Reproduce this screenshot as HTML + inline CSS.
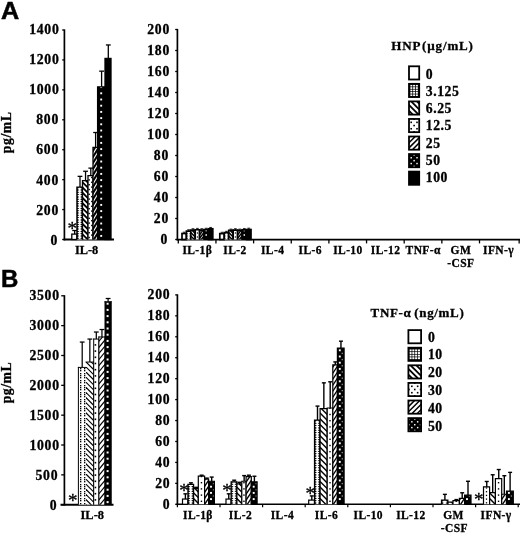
<!DOCTYPE html>
<html><head><meta charset="utf-8"><title>Figure</title>
<style>html,body{margin:0;padding:0;background:#fff}svg{display:block;will-change:transform}text{fill:#000}</style>
</head><body>
<svg width="520" height="536" viewBox="0 0 520 536">
<rect width="520" height="536" fill="#fff"/>
<text x="0.90" y="19.40" font-family='"Liberation Sans", sans-serif' font-size="24.0" font-weight="bold" text-anchor="start" stroke="#000" stroke-width="0.5" textLength="18.2" lengthAdjust="spacingAndGlyphs">A</text>
<line x1="64.40" y1="29.40" x2="64.40" y2="240.35" stroke="#000" stroke-width="1.7" />
<line x1="62.20" y1="239.50" x2="64.40" y2="239.50" stroke="#000" stroke-width="1.3" />
<text x="58.05" y="245.00" font-family='"Liberation Serif", serif' font-size="13.7" font-weight="bold" text-anchor="end" stroke="#000" stroke-width="0.3" letter-spacing="0.75">0</text>
<line x1="62.20" y1="209.57" x2="64.40" y2="209.57" stroke="#000" stroke-width="1.3" />
<text x="59.05" y="215.00" font-family='"Liberation Serif", serif' font-size="13.7" font-weight="bold" text-anchor="end" stroke="#000" stroke-width="0.3" letter-spacing="0.75">200</text>
<line x1="62.20" y1="179.64" x2="64.40" y2="179.64" stroke="#000" stroke-width="1.3" />
<text x="59.05" y="185.00" font-family='"Liberation Serif", serif' font-size="13.7" font-weight="bold" text-anchor="end" stroke="#000" stroke-width="0.3" letter-spacing="0.75">400</text>
<line x1="62.20" y1="149.71" x2="64.40" y2="149.71" stroke="#000" stroke-width="1.3" />
<text x="59.05" y="154.00" font-family='"Liberation Serif", serif' font-size="13.7" font-weight="bold" text-anchor="end" stroke="#000" stroke-width="0.3" letter-spacing="0.75">600</text>
<line x1="62.20" y1="119.79" x2="64.40" y2="119.79" stroke="#000" stroke-width="1.3" />
<text x="59.05" y="124.00" font-family='"Liberation Serif", serif' font-size="13.7" font-weight="bold" text-anchor="end" stroke="#000" stroke-width="0.3" letter-spacing="0.75">800</text>
<line x1="62.20" y1="89.86" x2="64.40" y2="89.86" stroke="#000" stroke-width="1.3" />
<text x="59.55" y="94.00" font-family='"Liberation Serif", serif' font-size="13.7" font-weight="bold" text-anchor="end" stroke="#000" stroke-width="0.3" letter-spacing="0.75">1000</text>
<line x1="62.20" y1="59.93" x2="64.40" y2="59.93" stroke="#000" stroke-width="1.3" />
<text x="59.55" y="64.00" font-family='"Liberation Serif", serif' font-size="13.7" font-weight="bold" text-anchor="end" stroke="#000" stroke-width="0.3" letter-spacing="0.75">1200</text>
<line x1="62.20" y1="30.00" x2="64.40" y2="30.00" stroke="#000" stroke-width="1.3" />
<text x="59.55" y="34.00" font-family='"Liberation Serif", serif' font-size="13.7" font-weight="bold" text-anchor="end" stroke="#000" stroke-width="0.3" letter-spacing="0.75">1400</text>
<line x1="63.55" y1="239.50" x2="114.00" y2="239.50" stroke="#000" stroke-width="2.0" />
<line x1="74.65" y1="234.11" x2="74.65" y2="230.52" stroke="#000" stroke-width="1.3" />
<line x1="72.25" y1="230.52" x2="77.05" y2="230.52" stroke="#000" stroke-width="1.3" />
<rect x="71.80" y="234.11" width="5.10" height="5.39" fill="#fff" stroke="#000" stroke-width="1.3"/>
<line x1="80.00" y1="187.12" x2="80.00" y2="176.35" stroke="#000" stroke-width="1.3" />
<line x1="77.60" y1="176.35" x2="82.40" y2="176.35" stroke="#000" stroke-width="1.3" />
<clipPath id="c0"><rect x="76.90" y="187.12" width="5.60" height="52.38"/></clipPath>
<rect x="76.90" y="187.12" width="5.60" height="52.38" fill="#fff"/>
<g clip-path="url(#c0)">
<path d="M76.90,237.04 L79.30,238.30 L76.90,239.56Z M82.50,237.04 L80.10,238.30 L82.50,239.56Z" fill="#000"/>
<path d="M76.90,234.74 L79.30,236.00 L76.90,237.26Z M82.50,234.74 L80.10,236.00 L82.50,237.26Z" fill="#000"/>
<path d="M76.90,232.44 L79.30,233.70 L76.90,234.96Z M82.50,232.44 L80.10,233.70 L82.50,234.96Z" fill="#000"/>
<path d="M76.90,230.13 L79.30,231.40 L76.90,232.66Z M82.50,230.13 L80.10,231.40 L82.50,232.66Z" fill="#000"/>
<path d="M76.90,227.83 L79.30,229.10 L76.90,230.36Z M82.50,227.83 L80.10,229.10 L82.50,230.36Z" fill="#000"/>
<path d="M76.90,225.53 L79.30,226.80 L76.90,228.06Z M82.50,225.53 L80.10,226.80 L82.50,228.06Z" fill="#000"/>
<path d="M76.90,223.23 L79.30,224.50 L76.90,225.76Z M82.50,223.23 L80.10,224.50 L82.50,225.76Z" fill="#000"/>
<path d="M76.90,220.93 L79.30,222.20 L76.90,223.46Z M82.50,220.93 L80.10,222.20 L82.50,223.46Z" fill="#000"/>
<path d="M76.90,218.63 L79.30,219.90 L76.90,221.16Z M82.50,218.63 L80.10,219.90 L82.50,221.16Z" fill="#000"/>
<path d="M76.90,216.33 L79.30,217.60 L76.90,218.86Z M82.50,216.33 L80.10,217.60 L82.50,218.86Z" fill="#000"/>
<path d="M76.90,214.03 L79.30,215.30 L76.90,216.56Z M82.50,214.03 L80.10,215.30 L82.50,216.56Z" fill="#000"/>
<path d="M76.90,211.73 L79.30,213.00 L76.90,214.26Z M82.50,211.73 L80.10,213.00 L82.50,214.26Z" fill="#000"/>
<path d="M76.90,209.43 L79.30,210.70 L76.90,211.96Z M82.50,209.43 L80.10,210.70 L82.50,211.96Z" fill="#000"/>
<path d="M76.90,207.13 L79.30,208.40 L76.90,209.66Z M82.50,207.13 L80.10,208.40 L82.50,209.66Z" fill="#000"/>
<path d="M76.90,204.83 L79.30,206.10 L76.90,207.36Z M82.50,204.83 L80.10,206.10 L82.50,207.36Z" fill="#000"/>
<path d="M76.90,202.53 L79.30,203.80 L76.90,205.06Z M82.50,202.53 L80.10,203.80 L82.50,205.06Z" fill="#000"/>
<path d="M76.90,200.23 L79.30,201.50 L76.90,202.76Z M82.50,200.23 L80.10,201.50 L82.50,202.76Z" fill="#000"/>
<path d="M76.90,197.93 L79.30,199.20 L76.90,200.46Z M82.50,197.93 L80.10,199.20 L82.50,200.46Z" fill="#000"/>
<path d="M76.90,195.63 L79.30,196.90 L76.90,198.16Z M82.50,195.63 L80.10,196.90 L82.50,198.16Z" fill="#000"/>
<path d="M76.90,193.33 L79.30,194.60 L76.90,195.86Z M82.50,193.33 L80.10,194.60 L82.50,195.86Z" fill="#000"/>
<path d="M76.90,191.03 L79.30,192.30 L76.90,193.56Z M82.50,191.03 L80.10,192.30 L82.50,193.56Z" fill="#000"/>
<path d="M76.90,188.73 L79.30,190.00 L76.90,191.26Z M82.50,188.73 L80.10,190.00 L82.50,191.26Z" fill="#000"/>
<path d="M76.90,186.43 L79.30,187.70 L76.90,188.96Z M82.50,186.43 L80.10,187.70 L82.50,188.96Z" fill="#000"/>
<path d="M76.90,184.13 L79.30,185.40 L76.90,186.66Z M82.50,184.13 L80.10,185.40 L82.50,186.66Z" fill="#000"/>
</g>
<path d="M76.90,239.50V186.47M76.25,187.12H83.15M82.50,239.50V186.47" fill="none" stroke="#000" stroke-width="1.3"/>
<line x1="85.55" y1="180.69" x2="85.55" y2="171.26" stroke="#000" stroke-width="1.3" />
<line x1="83.15" y1="171.26" x2="87.95" y2="171.26" stroke="#000" stroke-width="1.3" />
<clipPath id="c1"><rect x="82.50" y="180.69" width="5.50" height="58.81"/></clipPath>
<rect x="82.50" y="180.69" width="5.50" height="58.81" fill="#fff"/>
<g clip-path="url(#c1)">
<g stroke="#000" stroke-width="1.85">
<line x1="81.50" y1="238.50" x2="89.00" y2="246.00"/>
<line x1="81.50" y1="233.30" x2="89.00" y2="240.80"/>
<line x1="81.50" y1="228.10" x2="89.00" y2="235.60"/>
<line x1="81.50" y1="222.90" x2="89.00" y2="230.40"/>
<line x1="81.50" y1="217.70" x2="89.00" y2="225.20"/>
<line x1="81.50" y1="212.50" x2="89.00" y2="220.00"/>
<line x1="81.50" y1="207.30" x2="89.00" y2="214.80"/>
<line x1="81.50" y1="202.10" x2="89.00" y2="209.60"/>
<line x1="81.50" y1="196.90" x2="89.00" y2="204.40"/>
<line x1="81.50" y1="191.70" x2="89.00" y2="199.20"/>
<line x1="81.50" y1="186.50" x2="89.00" y2="194.00"/>
<line x1="81.50" y1="181.30" x2="89.00" y2="188.80"/>
<line x1="81.50" y1="176.10" x2="89.00" y2="183.60"/>
<line x1="81.50" y1="170.90" x2="89.00" y2="178.40"/>
</g>
</g>
<path d="M82.50,239.50V180.04M81.85,180.69H88.65M88.00,239.50V180.04" fill="none" stroke="#000" stroke-width="1.3"/>
<line x1="90.80" y1="175.60" x2="90.80" y2="168.12" stroke="#000" stroke-width="1.3" />
<line x1="88.40" y1="168.12" x2="93.20" y2="168.12" stroke="#000" stroke-width="1.3" />
<clipPath id="c2"><rect x="88.00" y="175.60" width="5.00" height="63.90"/></clipPath>
<rect x="88.00" y="175.60" width="5.00" height="63.90" fill="#fff"/>
<g clip-path="url(#c2)">
<rect x="88.50" y="236.80" width="1.40" height="1.40" fill="#000"/>
<rect x="91.10" y="234.40" width="1.40" height="1.40" fill="#000"/>
<rect x="88.50" y="232.00" width="1.40" height="1.40" fill="#000"/>
<rect x="91.10" y="229.60" width="1.40" height="1.40" fill="#000"/>
<rect x="88.50" y="227.20" width="1.40" height="1.40" fill="#000"/>
<rect x="91.10" y="224.80" width="1.40" height="1.40" fill="#000"/>
<rect x="88.50" y="222.40" width="1.40" height="1.40" fill="#000"/>
<rect x="91.10" y="220.00" width="1.40" height="1.40" fill="#000"/>
<rect x="88.50" y="217.60" width="1.40" height="1.40" fill="#000"/>
<rect x="91.10" y="215.20" width="1.40" height="1.40" fill="#000"/>
<rect x="88.50" y="212.80" width="1.40" height="1.40" fill="#000"/>
<rect x="91.10" y="210.40" width="1.40" height="1.40" fill="#000"/>
<rect x="88.50" y="208.00" width="1.40" height="1.40" fill="#000"/>
<rect x="91.10" y="205.60" width="1.40" height="1.40" fill="#000"/>
<rect x="88.50" y="203.20" width="1.40" height="1.40" fill="#000"/>
<rect x="91.10" y="200.80" width="1.40" height="1.40" fill="#000"/>
<rect x="88.50" y="198.40" width="1.40" height="1.40" fill="#000"/>
<rect x="91.10" y="196.00" width="1.40" height="1.40" fill="#000"/>
<rect x="88.50" y="193.60" width="1.40" height="1.40" fill="#000"/>
<rect x="91.10" y="191.20" width="1.40" height="1.40" fill="#000"/>
<rect x="88.50" y="188.80" width="1.40" height="1.40" fill="#000"/>
<rect x="91.10" y="186.40" width="1.40" height="1.40" fill="#000"/>
<rect x="88.50" y="184.00" width="1.40" height="1.40" fill="#000"/>
<rect x="91.10" y="181.60" width="1.40" height="1.40" fill="#000"/>
<rect x="88.50" y="179.20" width="1.40" height="1.40" fill="#000"/>
<rect x="91.10" y="176.80" width="1.40" height="1.40" fill="#000"/>
</g>
<path d="M88.00,239.50V174.95M87.35,175.60H93.65M93.00,239.50V174.95" fill="none" stroke="#000" stroke-width="1.3"/>
<line x1="95.60" y1="147.47" x2="95.60" y2="132.51" stroke="#000" stroke-width="1.3" />
<line x1="93.20" y1="132.51" x2="98.00" y2="132.51" stroke="#000" stroke-width="1.3" />
<clipPath id="c3"><rect x="93.00" y="147.47" width="4.60" height="92.03"/></clipPath>
<rect x="93.00" y="147.47" width="4.60" height="92.03" fill="#fff"/>
<g clip-path="url(#c3)">
<g stroke="#000" stroke-width="2.0">
<line x1="92.00" y1="248.46" x2="98.60" y2="237.90"/>
<line x1="92.00" y1="242.46" x2="98.60" y2="231.90"/>
<line x1="92.00" y1="236.46" x2="98.60" y2="225.90"/>
<line x1="92.00" y1="230.46" x2="98.60" y2="219.90"/>
<line x1="92.00" y1="224.46" x2="98.60" y2="213.90"/>
<line x1="92.00" y1="218.46" x2="98.60" y2="207.90"/>
<line x1="92.00" y1="212.46" x2="98.60" y2="201.90"/>
<line x1="92.00" y1="206.46" x2="98.60" y2="195.90"/>
<line x1="92.00" y1="200.46" x2="98.60" y2="189.90"/>
<line x1="92.00" y1="194.46" x2="98.60" y2="183.90"/>
<line x1="92.00" y1="188.46" x2="98.60" y2="177.90"/>
<line x1="92.00" y1="182.46" x2="98.60" y2="171.90"/>
<line x1="92.00" y1="176.46" x2="98.60" y2="165.90"/>
<line x1="92.00" y1="170.46" x2="98.60" y2="159.90"/>
<line x1="92.00" y1="164.46" x2="98.60" y2="153.90"/>
<line x1="92.00" y1="158.46" x2="98.60" y2="147.90"/>
<line x1="92.00" y1="152.46" x2="98.60" y2="141.90"/>
<line x1="92.00" y1="146.46" x2="98.60" y2="135.90"/>
<line x1="92.00" y1="140.46" x2="98.60" y2="129.90"/>
</g>
</g>
<path d="M93.00,239.50V146.82M92.35,147.47H98.25M97.60,239.50V146.82" fill="none" stroke="#000" stroke-width="1.3"/>
<line x1="101.60" y1="86.86" x2="101.60" y2="71.15" stroke="#000" stroke-width="1.3" />
<line x1="99.20" y1="71.15" x2="104.00" y2="71.15" stroke="#000" stroke-width="1.3" />
<clipPath id="c4"><rect x="97.60" y="86.86" width="7.40" height="152.64"/></clipPath>
<rect x="97.60" y="86.86" width="7.40" height="152.64" fill="#000"/>
<g clip-path="url(#c4)">
<rect x="100.25" y="234.95" width="1.90" height="1.90" fill="#fff"/>
<rect x="100.25" y="228.75" width="1.90" height="1.90" fill="#fff"/>
<rect x="100.25" y="222.55" width="1.90" height="1.90" fill="#fff"/>
<rect x="100.25" y="216.35" width="1.90" height="1.90" fill="#fff"/>
<rect x="100.25" y="210.15" width="1.90" height="1.90" fill="#fff"/>
<rect x="100.25" y="203.95" width="1.90" height="1.90" fill="#fff"/>
<rect x="100.25" y="197.75" width="1.90" height="1.90" fill="#fff"/>
<rect x="100.25" y="191.55" width="1.90" height="1.90" fill="#fff"/>
<rect x="100.25" y="185.35" width="1.90" height="1.90" fill="#fff"/>
<rect x="100.25" y="179.15" width="1.90" height="1.90" fill="#fff"/>
<rect x="100.25" y="172.95" width="1.90" height="1.90" fill="#fff"/>
<rect x="100.25" y="166.75" width="1.90" height="1.90" fill="#fff"/>
<rect x="100.25" y="160.55" width="1.90" height="1.90" fill="#fff"/>
<rect x="100.25" y="154.35" width="1.90" height="1.90" fill="#fff"/>
<rect x="100.25" y="148.15" width="1.90" height="1.90" fill="#fff"/>
<rect x="100.25" y="141.95" width="1.90" height="1.90" fill="#fff"/>
<rect x="100.25" y="135.75" width="1.90" height="1.90" fill="#fff"/>
<rect x="100.25" y="129.55" width="1.90" height="1.90" fill="#fff"/>
<rect x="100.25" y="123.35" width="1.90" height="1.90" fill="#fff"/>
<rect x="100.25" y="117.15" width="1.90" height="1.90" fill="#fff"/>
<rect x="100.25" y="110.95" width="1.90" height="1.90" fill="#fff"/>
<rect x="100.25" y="104.75" width="1.90" height="1.90" fill="#fff"/>
<rect x="100.25" y="98.55" width="1.90" height="1.90" fill="#fff"/>
<rect x="100.25" y="92.35" width="1.90" height="1.90" fill="#fff"/>
<rect x="100.25" y="86.15" width="1.90" height="1.90" fill="#fff"/>
</g>
<path d="M97.60,239.50V86.21M96.95,86.86H105.65M105.00,239.50V86.21" fill="none" stroke="#000" stroke-width="1.3"/>
<line x1="108.30" y1="58.43" x2="108.30" y2="44.96" stroke="#000" stroke-width="1.3" />
<line x1="105.90" y1="44.96" x2="110.70" y2="44.96" stroke="#000" stroke-width="1.3" />
<rect x="105.00" y="58.43" width="6.00" height="181.07" fill="#000" stroke="#000" stroke-width="1.3"/>
<text x="72.30" y="234.66" font-family='"Liberation Serif", serif' font-size="19" font-weight="normal" text-anchor="middle" stroke="#000" stroke-width="0.3" >*</text>
<text x="86.60" y="253.80" font-family='"Liberation Serif", serif' font-size="12.3" font-weight="bold" text-anchor="middle" stroke="#000" stroke-width="0.3" letter-spacing="0.05">IL-8</text>
<text x="11.40" y="132.40" font-family='"Liberation Serif", serif' font-size="13.7" font-weight="bold" text-anchor="middle" stroke="#000" stroke-width="0.3" transform="rotate(-90 11.4 132.4)" letter-spacing="0.55">pg/mL</text>
<line x1="177.40" y1="28.90" x2="177.40" y2="240.35" stroke="#000" stroke-width="1.7" />
<line x1="175.20" y1="239.50" x2="177.40" y2="239.50" stroke="#000" stroke-width="1.3" />
<text x="168.10" y="244.00" font-family='"Liberation Serif", serif' font-size="13.7" font-weight="bold" text-anchor="end" stroke="#000" stroke-width="0.3" letter-spacing="0.75">0</text>
<line x1="175.20" y1="218.50" x2="177.40" y2="218.50" stroke="#000" stroke-width="1.3" />
<text x="169.05" y="223.00" font-family='"Liberation Serif", serif' font-size="13.7" font-weight="bold" text-anchor="end" stroke="#000" stroke-width="0.3" letter-spacing="0.75">20</text>
<line x1="175.20" y1="197.50" x2="177.40" y2="197.50" stroke="#000" stroke-width="1.3" />
<text x="169.05" y="202.00" font-family='"Liberation Serif", serif' font-size="13.7" font-weight="bold" text-anchor="end" stroke="#000" stroke-width="0.3" letter-spacing="0.75">40</text>
<line x1="175.20" y1="176.50" x2="177.40" y2="176.50" stroke="#000" stroke-width="1.3" />
<text x="169.05" y="181.00" font-family='"Liberation Serif", serif' font-size="13.7" font-weight="bold" text-anchor="end" stroke="#000" stroke-width="0.3" letter-spacing="0.75">60</text>
<line x1="175.20" y1="155.50" x2="177.40" y2="155.50" stroke="#000" stroke-width="1.3" />
<text x="169.05" y="160.00" font-family='"Liberation Serif", serif' font-size="13.7" font-weight="bold" text-anchor="end" stroke="#000" stroke-width="0.3" letter-spacing="0.75">80</text>
<line x1="175.20" y1="134.50" x2="177.40" y2="134.50" stroke="#000" stroke-width="1.3" />
<text x="170.00" y="139.00" font-family='"Liberation Serif", serif' font-size="13.7" font-weight="bold" text-anchor="end" stroke="#000" stroke-width="0.3" letter-spacing="0.75">100</text>
<line x1="175.20" y1="113.50" x2="177.40" y2="113.50" stroke="#000" stroke-width="1.3" />
<text x="170.00" y="118.00" font-family='"Liberation Serif", serif' font-size="13.7" font-weight="bold" text-anchor="end" stroke="#000" stroke-width="0.3" letter-spacing="0.75">120</text>
<line x1="175.20" y1="92.50" x2="177.40" y2="92.50" stroke="#000" stroke-width="1.3" />
<text x="170.00" y="97.00" font-family='"Liberation Serif", serif' font-size="13.7" font-weight="bold" text-anchor="end" stroke="#000" stroke-width="0.3" letter-spacing="0.75">140</text>
<line x1="175.20" y1="71.50" x2="177.40" y2="71.50" stroke="#000" stroke-width="1.3" />
<text x="170.00" y="76.00" font-family='"Liberation Serif", serif' font-size="13.7" font-weight="bold" text-anchor="end" stroke="#000" stroke-width="0.3" letter-spacing="0.75">160</text>
<line x1="175.20" y1="50.50" x2="177.40" y2="50.50" stroke="#000" stroke-width="1.3" />
<text x="170.00" y="55.00" font-family='"Liberation Serif", serif' font-size="13.7" font-weight="bold" text-anchor="end" stroke="#000" stroke-width="0.3" letter-spacing="0.75">180</text>
<line x1="175.20" y1="29.50" x2="177.40" y2="29.50" stroke="#000" stroke-width="1.3" />
<text x="170.00" y="34.00" font-family='"Liberation Serif", serif' font-size="13.7" font-weight="bold" text-anchor="end" stroke="#000" stroke-width="0.3" letter-spacing="0.75">200</text>
<line x1="176.55" y1="239.50" x2="520.00" y2="239.50" stroke="#000" stroke-width="1.75" />
<line x1="178.30" y1="239.50" x2="178.30" y2="243.40" stroke="#000" stroke-width="1.3" />
<line x1="215.95" y1="239.50" x2="215.95" y2="243.40" stroke="#000" stroke-width="1.3" />
<line x1="253.60" y1="239.50" x2="253.60" y2="243.40" stroke="#000" stroke-width="1.3" />
<line x1="291.25" y1="239.50" x2="291.25" y2="243.40" stroke="#000" stroke-width="1.3" />
<line x1="328.90" y1="239.50" x2="328.90" y2="243.40" stroke="#000" stroke-width="1.3" />
<line x1="366.55" y1="239.50" x2="366.55" y2="243.40" stroke="#000" stroke-width="1.3" />
<line x1="404.20" y1="239.50" x2="404.20" y2="243.40" stroke="#000" stroke-width="1.3" />
<line x1="441.85" y1="239.50" x2="441.85" y2="243.40" stroke="#000" stroke-width="1.3" />
<line x1="479.50" y1="239.50" x2="479.50" y2="243.40" stroke="#000" stroke-width="1.3" />
<line x1="519.15" y1="239.50" x2="519.15" y2="243.40" stroke="#000" stroke-width="1.3" />
<text x="197.32" y="254.00" font-family='"Liberation Serif", serif' font-size="11.5" font-weight="bold" text-anchor="middle" stroke="#000" stroke-width="0.3" letter-spacing="0.4">IL-1β</text>
<text x="234.97" y="254.00" font-family='"Liberation Serif", serif' font-size="11.5" font-weight="bold" text-anchor="middle" stroke="#000" stroke-width="0.3" letter-spacing="0.4">IL-2</text>
<text x="272.62" y="254.00" font-family='"Liberation Serif", serif' font-size="11.5" font-weight="bold" text-anchor="middle" stroke="#000" stroke-width="0.3" letter-spacing="0.4">IL-4</text>
<text x="310.28" y="254.00" font-family='"Liberation Serif", serif' font-size="11.5" font-weight="bold" text-anchor="middle" stroke="#000" stroke-width="0.3" letter-spacing="0.4">IL-6</text>
<text x="347.93" y="254.00" font-family='"Liberation Serif", serif' font-size="11.5" font-weight="bold" text-anchor="middle" stroke="#000" stroke-width="0.3" letter-spacing="0.4">IL-10</text>
<text x="385.57" y="254.00" font-family='"Liberation Serif", serif' font-size="11.5" font-weight="bold" text-anchor="middle" stroke="#000" stroke-width="0.3" letter-spacing="0.4">IL-12</text>
<text x="423.22" y="254.00" font-family='"Liberation Serif", serif' font-size="11.5" font-weight="bold" text-anchor="middle" stroke="#000" stroke-width="0.3" letter-spacing="0.4">TNF-α</text>
<text x="460.88" y="254.00" font-family='"Liberation Serif", serif' font-size="11.5" font-weight="bold" text-anchor="middle" stroke="#000" stroke-width="0.3" letter-spacing="0.4">GM</text>
<text x="498.52" y="254.00" font-family='"Liberation Serif", serif' font-size="11.5" font-weight="bold" text-anchor="middle" stroke="#000" stroke-width="0.3" letter-spacing="0.4">IFN-γ</text>
<text x="460.88" y="267.40" font-family='"Liberation Serif", serif' font-size="11.5" font-weight="bold" text-anchor="middle" stroke="#000" stroke-width="0.3" letter-spacing="0.4">-CSF</text>
<line x1="184.20" y1="233.51" x2="184.20" y2="232.15" stroke="#000" stroke-width="0.8" />
<line x1="182.80" y1="232.15" x2="185.60" y2="232.15" stroke="#000" stroke-width="0.8" />
<rect x="182.00" y="233.51" width="4.40" height="5.99" fill="#fff" stroke="#000" stroke-width="1.7"/>
<line x1="188.60" y1="231.10" x2="188.60" y2="229.74" stroke="#000" stroke-width="0.8" />
<line x1="187.20" y1="229.74" x2="190.00" y2="229.74" stroke="#000" stroke-width="0.8" />
<clipPath id="c5"><rect x="186.40" y="231.10" width="4.40" height="8.40"/></clipPath>
<rect x="186.40" y="231.10" width="4.40" height="8.40" fill="#fff"/>
<g clip-path="url(#c5)">
<path d="M186.40,237.04 L187.90,238.30 L186.40,239.56Z M190.80,237.04 L189.30,238.30 L190.80,239.56Z" fill="#000"/>
<path d="M186.40,234.74 L187.90,236.00 L186.40,237.26Z M190.80,234.74 L189.30,236.00 L190.80,237.26Z" fill="#000"/>
<path d="M186.40,232.44 L187.90,233.70 L186.40,234.96Z M190.80,232.44 L189.30,233.70 L190.80,234.96Z" fill="#000"/>
<path d="M186.40,230.13 L187.90,231.40 L186.40,232.66Z M190.80,230.13 L189.30,231.40 L190.80,232.66Z" fill="#000"/>
<path d="M186.40,227.83 L187.90,229.10 L186.40,230.36Z M190.80,227.83 L189.30,229.10 L190.80,230.36Z" fill="#000"/>
</g>
<path d="M186.40,239.50V230.25M185.55,231.10H191.65M190.80,239.50V230.25" fill="none" stroke="#000" stroke-width="1.7"/>
<line x1="193.00" y1="230.05" x2="193.00" y2="228.69" stroke="#000" stroke-width="0.8" />
<line x1="191.60" y1="228.69" x2="194.40" y2="228.69" stroke="#000" stroke-width="0.8" />
<clipPath id="c6"><rect x="190.80" y="230.05" width="4.40" height="9.45"/></clipPath>
<rect x="190.80" y="230.05" width="4.40" height="9.45" fill="#fff"/>
<g clip-path="url(#c6)">
<g stroke="#000" stroke-width="1.5">
<line x1="189.80" y1="238.50" x2="196.20" y2="244.90"/>
<line x1="189.80" y1="235.00" x2="196.20" y2="241.40"/>
<line x1="189.80" y1="231.50" x2="196.20" y2="237.90"/>
<line x1="189.80" y1="228.00" x2="196.20" y2="234.40"/>
<line x1="189.80" y1="224.50" x2="196.20" y2="230.90"/>
<line x1="189.80" y1="221.00" x2="196.20" y2="227.40"/>
</g>
</g>
<path d="M190.80,239.50V229.20M189.95,230.05H196.05M195.20,239.50V229.20" fill="none" stroke="#000" stroke-width="1.7"/>
<line x1="197.40" y1="229.74" x2="197.40" y2="228.37" stroke="#000" stroke-width="0.8" />
<line x1="196.00" y1="228.37" x2="198.80" y2="228.37" stroke="#000" stroke-width="0.8" />
<clipPath id="c7"><rect x="195.20" y="229.74" width="4.40" height="9.76"/></clipPath>
<rect x="195.20" y="229.74" width="4.40" height="9.76" fill="#fff"/>
<g clip-path="url(#c7)">
<rect x="196.80" y="236.40" width="1.20" height="1.20" fill="#000"/>
<rect x="196.80" y="232.40" width="1.20" height="1.20" fill="#000"/>
</g>
<path d="M195.20,239.50V228.89M194.35,229.74H200.45M199.60,239.50V228.89" fill="none" stroke="#000" stroke-width="1.7"/>
<line x1="201.80" y1="230.05" x2="201.80" y2="228.69" stroke="#000" stroke-width="0.8" />
<line x1="200.40" y1="228.69" x2="203.20" y2="228.69" stroke="#000" stroke-width="0.8" />
<clipPath id="c8"><rect x="199.60" y="230.05" width="4.40" height="9.45"/></clipPath>
<rect x="199.60" y="230.05" width="4.40" height="9.45" fill="#fff"/>
<g clip-path="url(#c8)">
<g stroke="#000" stroke-width="1.5">
<line x1="198.60" y1="246.52" x2="205.00" y2="238.20"/>
<line x1="198.60" y1="243.02" x2="205.00" y2="234.70"/>
<line x1="198.60" y1="239.52" x2="205.00" y2="231.20"/>
<line x1="198.60" y1="236.02" x2="205.00" y2="227.70"/>
<line x1="198.60" y1="232.52" x2="205.00" y2="224.20"/>
<line x1="198.60" y1="229.02" x2="205.00" y2="220.70"/>
<line x1="198.60" y1="225.52" x2="205.00" y2="217.20"/>
</g>
</g>
<path d="M199.60,239.50V229.20M198.75,230.05H204.85M204.00,239.50V229.20" fill="none" stroke="#000" stroke-width="1.7"/>
<line x1="206.20" y1="229.63" x2="206.20" y2="228.26" stroke="#000" stroke-width="0.8" />
<line x1="204.80" y1="228.26" x2="207.60" y2="228.26" stroke="#000" stroke-width="0.8" />
<clipPath id="c9"><rect x="204.00" y="229.63" width="4.40" height="9.87"/></clipPath>
<rect x="204.00" y="229.63" width="4.40" height="9.87" fill="#000"/>
<g clip-path="url(#c9)">
<rect x="205.45" y="234.25" width="1.50" height="1.50" fill="#fff"/>
<rect x="205.45" y="229.75" width="1.50" height="1.50" fill="#fff"/>
</g>
<path d="M204.00,239.50V228.78M203.15,229.63H209.25M208.40,239.50V228.78" fill="none" stroke="#000" stroke-width="1.7"/>
<line x1="210.60" y1="228.79" x2="210.60" y2="227.43" stroke="#000" stroke-width="0.8" />
<line x1="209.20" y1="227.43" x2="212.00" y2="227.43" stroke="#000" stroke-width="0.8" />
<rect x="208.40" y="228.79" width="4.40" height="10.71" fill="#000" stroke="#000" stroke-width="1.7"/>
<line x1="222.03" y1="233.62" x2="222.03" y2="232.25" stroke="#000" stroke-width="0.8" />
<line x1="220.63" y1="232.25" x2="223.43" y2="232.25" stroke="#000" stroke-width="0.8" />
<rect x="219.80" y="233.62" width="4.46" height="5.88" fill="#fff" stroke="#000" stroke-width="1.7"/>
<line x1="226.49" y1="232.68" x2="226.49" y2="231.31" stroke="#000" stroke-width="0.8" />
<line x1="225.09" y1="231.31" x2="227.89" y2="231.31" stroke="#000" stroke-width="0.8" />
<clipPath id="c10"><rect x="224.26" y="232.68" width="4.46" height="6.82"/></clipPath>
<rect x="224.26" y="232.68" width="4.46" height="6.82" fill="#fff"/>
<g clip-path="url(#c10)">
<path d="M224.26,237.04 L225.76,238.30 L224.26,239.56Z M228.71,237.04 L227.21,238.30 L228.71,239.56Z" fill="#000"/>
<path d="M224.26,234.74 L225.76,236.00 L224.26,237.26Z M228.71,234.74 L227.21,236.00 L228.71,237.26Z" fill="#000"/>
<path d="M224.26,232.44 L225.76,233.70 L224.26,234.96Z M228.71,232.44 L227.21,233.70 L228.71,234.96Z" fill="#000"/>
<path d="M224.26,230.13 L225.76,231.40 L224.26,232.66Z M228.71,230.13 L227.21,231.40 L228.71,232.66Z" fill="#000"/>
</g>
<path d="M224.26,239.50V231.83M223.41,232.68H229.56M228.71,239.50V231.83" fill="none" stroke="#000" stroke-width="1.7"/>
<line x1="230.94" y1="230.47" x2="230.94" y2="229.10" stroke="#000" stroke-width="0.8" />
<line x1="229.54" y1="229.10" x2="232.34" y2="229.10" stroke="#000" stroke-width="0.8" />
<clipPath id="c11"><rect x="228.71" y="230.47" width="4.46" height="9.03"/></clipPath>
<rect x="228.71" y="230.47" width="4.46" height="9.03" fill="#fff"/>
<g clip-path="url(#c11)">
<g stroke="#000" stroke-width="1.5">
<line x1="227.71" y1="238.50" x2="234.17" y2="244.96"/>
<line x1="227.71" y1="235.00" x2="234.17" y2="241.46"/>
<line x1="227.71" y1="231.50" x2="234.17" y2="237.96"/>
<line x1="227.71" y1="228.00" x2="234.17" y2="234.46"/>
<line x1="227.71" y1="224.50" x2="234.17" y2="230.96"/>
<line x1="227.71" y1="221.00" x2="234.17" y2="227.46"/>
</g>
</g>
<path d="M228.71,239.50V229.62M227.86,230.47H234.02M233.17,239.50V229.62" fill="none" stroke="#000" stroke-width="1.7"/>
<line x1="235.40" y1="230.05" x2="235.40" y2="228.69" stroke="#000" stroke-width="0.8" />
<line x1="234.00" y1="228.69" x2="236.80" y2="228.69" stroke="#000" stroke-width="0.8" />
<clipPath id="c12"><rect x="233.17" y="230.05" width="4.46" height="9.45"/></clipPath>
<rect x="233.17" y="230.05" width="4.46" height="9.45" fill="#fff"/>
<g clip-path="url(#c12)">
<rect x="234.80" y="236.40" width="1.20" height="1.20" fill="#000"/>
<rect x="234.80" y="232.40" width="1.20" height="1.20" fill="#000"/>
</g>
<path d="M233.17,239.50V229.20M232.32,230.05H238.48M237.63,239.50V229.20" fill="none" stroke="#000" stroke-width="1.7"/>
<line x1="239.86" y1="230.47" x2="239.86" y2="229.10" stroke="#000" stroke-width="0.8" />
<line x1="238.46" y1="229.10" x2="241.26" y2="229.10" stroke="#000" stroke-width="0.8" />
<clipPath id="c13"><rect x="237.63" y="230.47" width="4.46" height="9.03"/></clipPath>
<rect x="237.63" y="230.47" width="4.46" height="9.03" fill="#fff"/>
<g clip-path="url(#c13)">
<g stroke="#000" stroke-width="1.5">
<line x1="236.63" y1="246.59" x2="243.09" y2="238.20"/>
<line x1="236.63" y1="243.09" x2="243.09" y2="234.70"/>
<line x1="236.63" y1="239.59" x2="243.09" y2="231.20"/>
<line x1="236.63" y1="236.09" x2="243.09" y2="227.70"/>
<line x1="236.63" y1="232.59" x2="243.09" y2="224.20"/>
<line x1="236.63" y1="229.09" x2="243.09" y2="220.70"/>
<line x1="236.63" y1="225.59" x2="243.09" y2="217.20"/>
</g>
</g>
<path d="M237.63,239.50V229.62M236.78,230.47H242.94M242.09,239.50V229.62" fill="none" stroke="#000" stroke-width="1.7"/>
<line x1="244.31" y1="229.84" x2="244.31" y2="228.47" stroke="#000" stroke-width="0.8" />
<line x1="242.91" y1="228.47" x2="245.71" y2="228.47" stroke="#000" stroke-width="0.8" />
<clipPath id="c14"><rect x="242.09" y="229.84" width="4.46" height="9.66"/></clipPath>
<rect x="242.09" y="229.84" width="4.46" height="9.66" fill="#000"/>
<g clip-path="url(#c14)">
<rect x="243.56" y="234.25" width="1.50" height="1.50" fill="#fff"/>
<rect x="243.56" y="229.75" width="1.50" height="1.50" fill="#fff"/>
</g>
<path d="M242.09,239.50V228.99M241.24,229.84H247.39M246.54,239.50V228.99" fill="none" stroke="#000" stroke-width="1.7"/>
<line x1="248.77" y1="229.53" x2="248.77" y2="228.16" stroke="#000" stroke-width="0.8" />
<line x1="247.37" y1="228.16" x2="250.17" y2="228.16" stroke="#000" stroke-width="0.8" />
<rect x="246.54" y="229.53" width="4.46" height="9.97" fill="#000" stroke="#000" stroke-width="1.7"/>
<text x="391.20" y="49.90" font-family='"Liberation Serif", serif' font-size="13" font-weight="bold" text-anchor="start" stroke="#000" stroke-width="0.3" letter-spacing="0.85" word-spacing="-2.5">HNP (µg/mL)</text>
<clipPath id="c15"><rect x="409.00" y="66.30" width="10.20" height="13.20"/></clipPath>
<rect x="409.00" y="66.30" width="10.20" height="13.20" fill="#fff"/>
<g clip-path="url(#c15)">
</g>
<rect x="409.00" y="66.30" width="10.20" height="13.20" fill="none" stroke="#000" stroke-width="1.8"/>
<text x="425.70" y="78.70" font-family='"Liberation Serif", serif' font-size="13.7" font-weight="bold" text-anchor="start" stroke="#000" stroke-width="0.3" letter-spacing="0.6">0</text>
<clipPath id="c16"><rect x="409.00" y="83.85" width="10.20" height="13.20"/></clipPath>
<rect x="409.00" y="83.85" width="10.20" height="13.20" fill="#fff"/>
<g clip-path="url(#c16)">
<rect x="409.00" y="83.85" width="10.20" height="13.20" fill="#000"/>
<rect x="410.35" y="84.80" width="2.00" height="1.70" fill="#fff"/>
<rect x="410.35" y="87.20" width="2.00" height="1.70" fill="#fff"/>
<rect x="410.35" y="89.60" width="2.00" height="1.70" fill="#fff"/>
<rect x="410.35" y="92.00" width="2.00" height="1.70" fill="#fff"/>
<rect x="410.35" y="94.40" width="2.00" height="1.70" fill="#fff"/>
<rect x="413.10" y="84.80" width="2.00" height="1.70" fill="#fff"/>
<rect x="413.10" y="87.20" width="2.00" height="1.70" fill="#fff"/>
<rect x="413.10" y="89.60" width="2.00" height="1.70" fill="#fff"/>
<rect x="413.10" y="92.00" width="2.00" height="1.70" fill="#fff"/>
<rect x="413.10" y="94.40" width="2.00" height="1.70" fill="#fff"/>
<rect x="415.85" y="84.80" width="2.00" height="1.70" fill="#fff"/>
<rect x="415.85" y="87.20" width="2.00" height="1.70" fill="#fff"/>
<rect x="415.85" y="89.60" width="2.00" height="1.70" fill="#fff"/>
<rect x="415.85" y="92.00" width="2.00" height="1.70" fill="#fff"/>
<rect x="415.85" y="94.40" width="2.00" height="1.70" fill="#fff"/>
</g>
<rect x="409.00" y="83.85" width="10.20" height="13.20" fill="none" stroke="#000" stroke-width="1.8"/>
<text x="425.70" y="95.95" font-family='"Liberation Serif", serif' font-size="13.7" font-weight="bold" text-anchor="start" stroke="#000" stroke-width="0.3" letter-spacing="0.6">3.125</text>
<clipPath id="c17"><rect x="409.00" y="101.40" width="10.20" height="13.20"/></clipPath>
<rect x="409.00" y="101.40" width="10.20" height="13.20" fill="#fff"/>
<g clip-path="url(#c17)">
<line x1="393.80" y1="101.40" x2="407.00" y2="114.60" stroke="#000" stroke-width="1.8"/>
<line x1="399.60" y1="101.40" x2="412.80" y2="114.60" stroke="#000" stroke-width="1.8"/>
<line x1="405.40" y1="101.40" x2="418.60" y2="114.60" stroke="#000" stroke-width="1.8"/>
<line x1="411.20" y1="101.40" x2="424.40" y2="114.60" stroke="#000" stroke-width="1.8"/>
<line x1="417.00" y1="101.40" x2="430.20" y2="114.60" stroke="#000" stroke-width="1.8"/>
<line x1="422.80" y1="101.40" x2="436.00" y2="114.60" stroke="#000" stroke-width="1.8"/>
<line x1="428.60" y1="101.40" x2="441.80" y2="114.60" stroke="#000" stroke-width="1.8"/>
</g>
<rect x="409.00" y="101.40" width="10.20" height="13.20" fill="none" stroke="#000" stroke-width="1.8"/>
<text x="425.70" y="113.20" font-family='"Liberation Serif", serif' font-size="13.7" font-weight="bold" text-anchor="start" stroke="#000" stroke-width="0.3" letter-spacing="0.6">6.25</text>
<clipPath id="c18"><rect x="409.00" y="118.95" width="10.20" height="13.20"/></clipPath>
<rect x="409.00" y="118.95" width="10.20" height="13.20" fill="#fff"/>
<g clip-path="url(#c18)">
<rect x="401.70" y="111.95" width="1.60" height="1.60" fill="#000"/>
<rect x="407.50" y="111.95" width="1.60" height="1.60" fill="#000"/>
<rect x="413.30" y="111.95" width="1.60" height="1.60" fill="#000"/>
<rect x="419.10" y="111.95" width="1.60" height="1.60" fill="#000"/>
<rect x="424.90" y="111.95" width="1.60" height="1.60" fill="#000"/>
<rect x="404.60" y="115.15" width="1.60" height="1.60" fill="#000"/>
<rect x="410.40" y="115.15" width="1.60" height="1.60" fill="#000"/>
<rect x="416.20" y="115.15" width="1.60" height="1.60" fill="#000"/>
<rect x="422.00" y="115.15" width="1.60" height="1.60" fill="#000"/>
<rect x="401.70" y="118.35" width="1.60" height="1.60" fill="#000"/>
<rect x="407.50" y="118.35" width="1.60" height="1.60" fill="#000"/>
<rect x="413.30" y="118.35" width="1.60" height="1.60" fill="#000"/>
<rect x="419.10" y="118.35" width="1.60" height="1.60" fill="#000"/>
<rect x="424.90" y="118.35" width="1.60" height="1.60" fill="#000"/>
<rect x="404.60" y="121.55" width="1.60" height="1.60" fill="#000"/>
<rect x="410.40" y="121.55" width="1.60" height="1.60" fill="#000"/>
<rect x="416.20" y="121.55" width="1.60" height="1.60" fill="#000"/>
<rect x="422.00" y="121.55" width="1.60" height="1.60" fill="#000"/>
<rect x="401.70" y="124.75" width="1.60" height="1.60" fill="#000"/>
<rect x="407.50" y="124.75" width="1.60" height="1.60" fill="#000"/>
<rect x="413.30" y="124.75" width="1.60" height="1.60" fill="#000"/>
<rect x="419.10" y="124.75" width="1.60" height="1.60" fill="#000"/>
<rect x="424.90" y="124.75" width="1.60" height="1.60" fill="#000"/>
<rect x="404.60" y="127.95" width="1.60" height="1.60" fill="#000"/>
<rect x="410.40" y="127.95" width="1.60" height="1.60" fill="#000"/>
<rect x="416.20" y="127.95" width="1.60" height="1.60" fill="#000"/>
<rect x="422.00" y="127.95" width="1.60" height="1.60" fill="#000"/>
<rect x="401.70" y="131.15" width="1.60" height="1.60" fill="#000"/>
<rect x="407.50" y="131.15" width="1.60" height="1.60" fill="#000"/>
<rect x="413.30" y="131.15" width="1.60" height="1.60" fill="#000"/>
<rect x="419.10" y="131.15" width="1.60" height="1.60" fill="#000"/>
<rect x="424.90" y="131.15" width="1.60" height="1.60" fill="#000"/>
<rect x="404.60" y="134.35" width="1.60" height="1.60" fill="#000"/>
<rect x="410.40" y="134.35" width="1.60" height="1.60" fill="#000"/>
<rect x="416.20" y="134.35" width="1.60" height="1.60" fill="#000"/>
<rect x="422.00" y="134.35" width="1.60" height="1.60" fill="#000"/>
<rect x="401.70" y="137.55" width="1.60" height="1.60" fill="#000"/>
<rect x="407.50" y="137.55" width="1.60" height="1.60" fill="#000"/>
<rect x="413.30" y="137.55" width="1.60" height="1.60" fill="#000"/>
<rect x="419.10" y="137.55" width="1.60" height="1.60" fill="#000"/>
<rect x="424.90" y="137.55" width="1.60" height="1.60" fill="#000"/>
</g>
<rect x="409.00" y="118.95" width="10.20" height="13.20" fill="none" stroke="#000" stroke-width="1.8"/>
<text x="425.70" y="130.45" font-family='"Liberation Serif", serif' font-size="13.7" font-weight="bold" text-anchor="start" stroke="#000" stroke-width="0.3" letter-spacing="0.6">12.5</text>
<clipPath id="c19"><rect x="409.00" y="136.50" width="10.20" height="13.20"/></clipPath>
<rect x="409.00" y="136.50" width="10.20" height="13.20" fill="#fff"/>
<g clip-path="url(#c19)">
<line x1="410.00" y1="136.50" x2="396.80" y2="149.70" stroke="#000" stroke-width="1.5"/>
<line x1="415.20" y1="136.50" x2="402.00" y2="149.70" stroke="#000" stroke-width="1.5"/>
<line x1="420.40" y1="136.50" x2="407.20" y2="149.70" stroke="#000" stroke-width="1.5"/>
<line x1="425.60" y1="136.50" x2="412.40" y2="149.70" stroke="#000" stroke-width="1.5"/>
<line x1="430.80" y1="136.50" x2="417.60" y2="149.70" stroke="#000" stroke-width="1.5"/>
<line x1="436.00" y1="136.50" x2="422.80" y2="149.70" stroke="#000" stroke-width="1.5"/>
<line x1="441.20" y1="136.50" x2="428.00" y2="149.70" stroke="#000" stroke-width="1.5"/>
</g>
<rect x="409.00" y="136.50" width="10.20" height="13.20" fill="none" stroke="#000" stroke-width="1.8"/>
<text x="425.70" y="147.70" font-family='"Liberation Serif", serif' font-size="13.7" font-weight="bold" text-anchor="start" stroke="#000" stroke-width="0.3" letter-spacing="0.6">25</text>
<clipPath id="c20"><rect x="409.00" y="154.05" width="10.20" height="13.20"/></clipPath>
<rect x="409.00" y="154.05" width="10.20" height="13.20" fill="#000"/>
<g clip-path="url(#c20)">
<rect x="401.77" y="148.33" width="1.45" height="1.45" fill="#fff"/>
<rect x="407.57" y="148.33" width="1.45" height="1.45" fill="#fff"/>
<rect x="413.38" y="148.33" width="1.45" height="1.45" fill="#fff"/>
<rect x="419.18" y="148.33" width="1.45" height="1.45" fill="#fff"/>
<rect x="424.98" y="148.33" width="1.45" height="1.45" fill="#fff"/>
<rect x="404.68" y="151.23" width="1.45" height="1.45" fill="#fff"/>
<rect x="410.48" y="151.23" width="1.45" height="1.45" fill="#fff"/>
<rect x="416.27" y="151.23" width="1.45" height="1.45" fill="#fff"/>
<rect x="422.07" y="151.23" width="1.45" height="1.45" fill="#fff"/>
<rect x="401.77" y="154.12" width="1.45" height="1.45" fill="#fff"/>
<rect x="407.57" y="154.12" width="1.45" height="1.45" fill="#fff"/>
<rect x="413.38" y="154.12" width="1.45" height="1.45" fill="#fff"/>
<rect x="419.18" y="154.12" width="1.45" height="1.45" fill="#fff"/>
<rect x="424.98" y="154.12" width="1.45" height="1.45" fill="#fff"/>
<rect x="404.68" y="157.03" width="1.45" height="1.45" fill="#fff"/>
<rect x="410.48" y="157.03" width="1.45" height="1.45" fill="#fff"/>
<rect x="416.27" y="157.03" width="1.45" height="1.45" fill="#fff"/>
<rect x="422.07" y="157.03" width="1.45" height="1.45" fill="#fff"/>
<rect x="401.77" y="159.93" width="1.45" height="1.45" fill="#fff"/>
<rect x="407.57" y="159.93" width="1.45" height="1.45" fill="#fff"/>
<rect x="413.38" y="159.93" width="1.45" height="1.45" fill="#fff"/>
<rect x="419.18" y="159.93" width="1.45" height="1.45" fill="#fff"/>
<rect x="424.98" y="159.93" width="1.45" height="1.45" fill="#fff"/>
<rect x="404.68" y="162.83" width="1.45" height="1.45" fill="#fff"/>
<rect x="410.48" y="162.83" width="1.45" height="1.45" fill="#fff"/>
<rect x="416.27" y="162.83" width="1.45" height="1.45" fill="#fff"/>
<rect x="422.07" y="162.83" width="1.45" height="1.45" fill="#fff"/>
<rect x="401.77" y="165.73" width="1.45" height="1.45" fill="#fff"/>
<rect x="407.57" y="165.73" width="1.45" height="1.45" fill="#fff"/>
<rect x="413.38" y="165.73" width="1.45" height="1.45" fill="#fff"/>
<rect x="419.18" y="165.73" width="1.45" height="1.45" fill="#fff"/>
<rect x="424.98" y="165.73" width="1.45" height="1.45" fill="#fff"/>
<rect x="404.68" y="168.62" width="1.45" height="1.45" fill="#fff"/>
<rect x="410.48" y="168.62" width="1.45" height="1.45" fill="#fff"/>
<rect x="416.27" y="168.62" width="1.45" height="1.45" fill="#fff"/>
<rect x="422.07" y="168.62" width="1.45" height="1.45" fill="#fff"/>
<rect x="401.77" y="171.53" width="1.45" height="1.45" fill="#fff"/>
<rect x="407.57" y="171.53" width="1.45" height="1.45" fill="#fff"/>
<rect x="413.38" y="171.53" width="1.45" height="1.45" fill="#fff"/>
<rect x="419.18" y="171.53" width="1.45" height="1.45" fill="#fff"/>
<rect x="424.98" y="171.53" width="1.45" height="1.45" fill="#fff"/>
</g>
<rect x="409.00" y="154.05" width="10.20" height="13.20" fill="none" stroke="#000" stroke-width="1.8"/>
<text x="425.70" y="164.95" font-family='"Liberation Serif", serif' font-size="13.7" font-weight="bold" text-anchor="start" stroke="#000" stroke-width="0.3" letter-spacing="0.6">50</text>
<clipPath id="c21"><rect x="409.00" y="171.60" width="10.20" height="13.20"/></clipPath>
<rect x="409.00" y="171.60" width="10.20" height="13.20" fill="#000"/>
<g clip-path="url(#c21)">
</g>
<rect x="409.00" y="171.60" width="10.20" height="13.20" fill="none" stroke="#000" stroke-width="1.8"/>
<text x="425.70" y="182.20" font-family='"Liberation Serif", serif' font-size="13.7" font-weight="bold" text-anchor="start" stroke="#000" stroke-width="0.3" letter-spacing="0.6">100</text>
<text x="1.10" y="287.00" font-family='"Liberation Sans", sans-serif' font-size="24.0" font-weight="bold" text-anchor="start" stroke="#000" stroke-width="0.5" >B</text>
<line x1="64.40" y1="295.20" x2="64.40" y2="505.55" stroke="#000" stroke-width="1.7" />
<line x1="61.20" y1="504.70" x2="64.40" y2="504.70" stroke="#000" stroke-width="1.3" />
<text x="57.35" y="510.00" font-family='"Liberation Serif", serif' font-size="13.7" font-weight="bold" text-anchor="end" stroke="#000" stroke-width="0.3" letter-spacing="0.75">0</text>
<line x1="61.20" y1="474.86" x2="64.40" y2="474.86" stroke="#000" stroke-width="1.3" />
<text x="58.25" y="480.00" font-family='"Liberation Serif", serif' font-size="13.7" font-weight="bold" text-anchor="end" stroke="#000" stroke-width="0.3" letter-spacing="0.75">500</text>
<line x1="61.20" y1="445.01" x2="64.40" y2="445.01" stroke="#000" stroke-width="1.3" />
<text x="59.75" y="450.00" font-family='"Liberation Serif", serif' font-size="13.7" font-weight="bold" text-anchor="end" stroke="#000" stroke-width="0.3" letter-spacing="0.75">1000</text>
<line x1="61.20" y1="415.17" x2="64.40" y2="415.17" stroke="#000" stroke-width="1.3" />
<text x="59.75" y="420.00" font-family='"Liberation Serif", serif' font-size="13.7" font-weight="bold" text-anchor="end" stroke="#000" stroke-width="0.3" letter-spacing="0.75">1500</text>
<line x1="61.20" y1="385.33" x2="64.40" y2="385.33" stroke="#000" stroke-width="1.3" />
<text x="59.75" y="390.00" font-family='"Liberation Serif", serif' font-size="13.7" font-weight="bold" text-anchor="end" stroke="#000" stroke-width="0.3" letter-spacing="0.75">2000</text>
<line x1="61.20" y1="355.49" x2="64.40" y2="355.49" stroke="#000" stroke-width="1.3" />
<text x="59.75" y="360.00" font-family='"Liberation Serif", serif' font-size="13.7" font-weight="bold" text-anchor="end" stroke="#000" stroke-width="0.3" letter-spacing="0.75">2500</text>
<line x1="61.20" y1="325.64" x2="64.40" y2="325.64" stroke="#000" stroke-width="1.3" />
<text x="59.75" y="330.00" font-family='"Liberation Serif", serif' font-size="13.7" font-weight="bold" text-anchor="end" stroke="#000" stroke-width="0.3" letter-spacing="0.75">3000</text>
<line x1="61.20" y1="295.80" x2="64.40" y2="295.80" stroke="#000" stroke-width="1.3" />
<text x="59.75" y="300.00" font-family='"Liberation Serif", serif' font-size="13.7" font-weight="bold" text-anchor="end" stroke="#000" stroke-width="0.3" letter-spacing="0.75">3500</text>
<line x1="60.50" y1="504.70" x2="113.50" y2="504.70" stroke="#000" stroke-width="2.0" />
<line x1="82.20" y1="367.42" x2="82.20" y2="342.06" stroke="#000" stroke-width="1.25" />
<line x1="79.80" y1="342.06" x2="84.60" y2="342.06" stroke="#000" stroke-width="1.25" />
<clipPath id="c22"><rect x="78.40" y="367.42" width="7.60" height="137.28"/></clipPath>
<rect x="78.40" y="367.42" width="7.60" height="137.28" fill="#fff"/>
<g clip-path="url(#c22)">
<rect x="80.00" y="503.00" width="1.35" height="1.35" fill="#000"/>
<rect x="84.00" y="503.00" width="1.35" height="1.35" fill="#000"/>
<rect x="80.00" y="500.00" width="1.35" height="1.35" fill="#000"/>
<rect x="84.00" y="500.00" width="1.35" height="1.35" fill="#000"/>
<rect x="80.00" y="498.00" width="1.35" height="1.35" fill="#000"/>
<rect x="84.00" y="498.00" width="1.35" height="1.35" fill="#000"/>
<rect x="80.00" y="495.00" width="1.35" height="1.35" fill="#000"/>
<rect x="84.00" y="495.00" width="1.35" height="1.35" fill="#000"/>
<rect x="80.00" y="493.00" width="1.35" height="1.35" fill="#000"/>
<rect x="84.00" y="493.00" width="1.35" height="1.35" fill="#000"/>
<rect x="80.00" y="491.00" width="1.35" height="1.35" fill="#000"/>
<rect x="84.00" y="491.00" width="1.35" height="1.35" fill="#000"/>
<rect x="80.00" y="488.00" width="1.35" height="1.35" fill="#000"/>
<rect x="84.00" y="488.00" width="1.35" height="1.35" fill="#000"/>
<rect x="80.00" y="486.00" width="1.35" height="1.35" fill="#000"/>
<rect x="84.00" y="486.00" width="1.35" height="1.35" fill="#000"/>
<rect x="80.00" y="484.00" width="1.35" height="1.35" fill="#000"/>
<rect x="84.00" y="484.00" width="1.35" height="1.35" fill="#000"/>
<rect x="80.00" y="481.00" width="1.35" height="1.35" fill="#000"/>
<rect x="84.00" y="481.00" width="1.35" height="1.35" fill="#000"/>
<rect x="80.00" y="479.00" width="1.35" height="1.35" fill="#000"/>
<rect x="84.00" y="479.00" width="1.35" height="1.35" fill="#000"/>
<rect x="80.00" y="477.00" width="1.35" height="1.35" fill="#000"/>
<rect x="84.00" y="477.00" width="1.35" height="1.35" fill="#000"/>
<rect x="80.00" y="474.00" width="1.35" height="1.35" fill="#000"/>
<rect x="84.00" y="474.00" width="1.35" height="1.35" fill="#000"/>
<rect x="80.00" y="472.00" width="1.35" height="1.35" fill="#000"/>
<rect x="84.00" y="472.00" width="1.35" height="1.35" fill="#000"/>
<rect x="80.00" y="469.00" width="1.35" height="1.35" fill="#000"/>
<rect x="84.00" y="469.00" width="1.35" height="1.35" fill="#000"/>
<rect x="80.00" y="467.00" width="1.35" height="1.35" fill="#000"/>
<rect x="84.00" y="467.00" width="1.35" height="1.35" fill="#000"/>
<rect x="80.00" y="465.00" width="1.35" height="1.35" fill="#000"/>
<rect x="84.00" y="465.00" width="1.35" height="1.35" fill="#000"/>
<rect x="80.00" y="462.00" width="1.35" height="1.35" fill="#000"/>
<rect x="84.00" y="462.00" width="1.35" height="1.35" fill="#000"/>
<rect x="80.00" y="460.00" width="1.35" height="1.35" fill="#000"/>
<rect x="84.00" y="460.00" width="1.35" height="1.35" fill="#000"/>
<rect x="80.00" y="458.00" width="1.35" height="1.35" fill="#000"/>
<rect x="84.00" y="458.00" width="1.35" height="1.35" fill="#000"/>
<rect x="80.00" y="455.00" width="1.35" height="1.35" fill="#000"/>
<rect x="84.00" y="455.00" width="1.35" height="1.35" fill="#000"/>
<rect x="80.00" y="453.00" width="1.35" height="1.35" fill="#000"/>
<rect x="84.00" y="453.00" width="1.35" height="1.35" fill="#000"/>
<rect x="80.00" y="451.00" width="1.35" height="1.35" fill="#000"/>
<rect x="84.00" y="451.00" width="1.35" height="1.35" fill="#000"/>
<rect x="80.00" y="448.00" width="1.35" height="1.35" fill="#000"/>
<rect x="84.00" y="448.00" width="1.35" height="1.35" fill="#000"/>
<rect x="80.00" y="446.00" width="1.35" height="1.35" fill="#000"/>
<rect x="84.00" y="446.00" width="1.35" height="1.35" fill="#000"/>
<rect x="80.00" y="444.00" width="1.35" height="1.35" fill="#000"/>
<rect x="84.00" y="444.00" width="1.35" height="1.35" fill="#000"/>
<rect x="80.00" y="441.00" width="1.35" height="1.35" fill="#000"/>
<rect x="84.00" y="441.00" width="1.35" height="1.35" fill="#000"/>
<rect x="80.00" y="439.00" width="1.35" height="1.35" fill="#000"/>
<rect x="84.00" y="439.00" width="1.35" height="1.35" fill="#000"/>
<rect x="80.00" y="436.00" width="1.35" height="1.35" fill="#000"/>
<rect x="84.00" y="436.00" width="1.35" height="1.35" fill="#000"/>
<rect x="80.00" y="434.00" width="1.35" height="1.35" fill="#000"/>
<rect x="84.00" y="434.00" width="1.35" height="1.35" fill="#000"/>
<rect x="80.00" y="432.00" width="1.35" height="1.35" fill="#000"/>
<rect x="84.00" y="432.00" width="1.35" height="1.35" fill="#000"/>
<rect x="80.00" y="429.00" width="1.35" height="1.35" fill="#000"/>
<rect x="84.00" y="429.00" width="1.35" height="1.35" fill="#000"/>
<rect x="80.00" y="427.00" width="1.35" height="1.35" fill="#000"/>
<rect x="84.00" y="427.00" width="1.35" height="1.35" fill="#000"/>
<rect x="80.00" y="425.00" width="1.35" height="1.35" fill="#000"/>
<rect x="84.00" y="425.00" width="1.35" height="1.35" fill="#000"/>
<rect x="80.00" y="422.00" width="1.35" height="1.35" fill="#000"/>
<rect x="84.00" y="422.00" width="1.35" height="1.35" fill="#000"/>
<rect x="80.00" y="420.00" width="1.35" height="1.35" fill="#000"/>
<rect x="84.00" y="420.00" width="1.35" height="1.35" fill="#000"/>
<rect x="80.00" y="418.00" width="1.35" height="1.35" fill="#000"/>
<rect x="84.00" y="418.00" width="1.35" height="1.35" fill="#000"/>
<rect x="80.00" y="415.00" width="1.35" height="1.35" fill="#000"/>
<rect x="84.00" y="415.00" width="1.35" height="1.35" fill="#000"/>
<rect x="80.00" y="413.00" width="1.35" height="1.35" fill="#000"/>
<rect x="84.00" y="413.00" width="1.35" height="1.35" fill="#000"/>
<rect x="80.00" y="410.00" width="1.35" height="1.35" fill="#000"/>
<rect x="84.00" y="410.00" width="1.35" height="1.35" fill="#000"/>
<rect x="80.00" y="408.00" width="1.35" height="1.35" fill="#000"/>
<rect x="84.00" y="408.00" width="1.35" height="1.35" fill="#000"/>
<rect x="80.00" y="406.00" width="1.35" height="1.35" fill="#000"/>
<rect x="84.00" y="406.00" width="1.35" height="1.35" fill="#000"/>
<rect x="80.00" y="403.00" width="1.35" height="1.35" fill="#000"/>
<rect x="84.00" y="403.00" width="1.35" height="1.35" fill="#000"/>
<rect x="80.00" y="401.00" width="1.35" height="1.35" fill="#000"/>
<rect x="84.00" y="401.00" width="1.35" height="1.35" fill="#000"/>
<rect x="80.00" y="399.00" width="1.35" height="1.35" fill="#000"/>
<rect x="84.00" y="399.00" width="1.35" height="1.35" fill="#000"/>
<rect x="80.00" y="396.00" width="1.35" height="1.35" fill="#000"/>
<rect x="84.00" y="396.00" width="1.35" height="1.35" fill="#000"/>
<rect x="80.00" y="394.00" width="1.35" height="1.35" fill="#000"/>
<rect x="84.00" y="394.00" width="1.35" height="1.35" fill="#000"/>
<rect x="80.00" y="392.00" width="1.35" height="1.35" fill="#000"/>
<rect x="84.00" y="392.00" width="1.35" height="1.35" fill="#000"/>
<rect x="80.00" y="389.00" width="1.35" height="1.35" fill="#000"/>
<rect x="84.00" y="389.00" width="1.35" height="1.35" fill="#000"/>
<rect x="80.00" y="387.00" width="1.35" height="1.35" fill="#000"/>
<rect x="84.00" y="387.00" width="1.35" height="1.35" fill="#000"/>
<rect x="80.00" y="385.00" width="1.35" height="1.35" fill="#000"/>
<rect x="84.00" y="385.00" width="1.35" height="1.35" fill="#000"/>
<rect x="80.00" y="382.00" width="1.35" height="1.35" fill="#000"/>
<rect x="84.00" y="382.00" width="1.35" height="1.35" fill="#000"/>
<rect x="80.00" y="380.00" width="1.35" height="1.35" fill="#000"/>
<rect x="84.00" y="380.00" width="1.35" height="1.35" fill="#000"/>
<rect x="80.00" y="377.00" width="1.35" height="1.35" fill="#000"/>
<rect x="84.00" y="377.00" width="1.35" height="1.35" fill="#000"/>
<rect x="80.00" y="375.00" width="1.35" height="1.35" fill="#000"/>
<rect x="84.00" y="375.00" width="1.35" height="1.35" fill="#000"/>
<rect x="80.00" y="373.00" width="1.35" height="1.35" fill="#000"/>
<rect x="84.00" y="373.00" width="1.35" height="1.35" fill="#000"/>
<rect x="80.00" y="370.00" width="1.35" height="1.35" fill="#000"/>
<rect x="84.00" y="370.00" width="1.35" height="1.35" fill="#000"/>
<rect x="80.00" y="368.00" width="1.35" height="1.35" fill="#000"/>
<rect x="84.00" y="368.00" width="1.35" height="1.35" fill="#000"/>
</g>
<path d="M78.40,504.70V366.92M77.90,367.42H86.50" fill="none" stroke="#000" stroke-width="1.0"/>
<line x1="89.85" y1="362.05" x2="89.85" y2="339.07" stroke="#000" stroke-width="1.25" />
<line x1="87.45" y1="339.07" x2="92.25" y2="339.07" stroke="#000" stroke-width="1.25" />
<clipPath id="c23"><rect x="86.00" y="362.05" width="7.70" height="142.65"/></clipPath>
<rect x="86.00" y="362.05" width="7.70" height="142.65" fill="#fff"/>
<g clip-path="url(#c23)">
<g stroke="#000" stroke-width="1.15">
<line x1="85.00" y1="503.70" x2="94.70" y2="513.40"/>
<line x1="85.00" y1="498.60" x2="94.70" y2="508.30"/>
<line x1="85.00" y1="493.50" x2="94.70" y2="503.20"/>
<line x1="85.00" y1="488.40" x2="94.70" y2="498.10"/>
<line x1="85.00" y1="483.30" x2="94.70" y2="493.00"/>
<line x1="85.00" y1="478.20" x2="94.70" y2="487.90"/>
<line x1="85.00" y1="473.10" x2="94.70" y2="482.80"/>
<line x1="85.00" y1="468.00" x2="94.70" y2="477.70"/>
<line x1="85.00" y1="462.90" x2="94.70" y2="472.60"/>
<line x1="85.00" y1="457.80" x2="94.70" y2="467.50"/>
<line x1="85.00" y1="452.70" x2="94.70" y2="462.40"/>
<line x1="85.00" y1="447.60" x2="94.70" y2="457.30"/>
<line x1="85.00" y1="442.50" x2="94.70" y2="452.20"/>
<line x1="85.00" y1="437.40" x2="94.70" y2="447.10"/>
<line x1="85.00" y1="432.30" x2="94.70" y2="442.00"/>
<line x1="85.00" y1="427.20" x2="94.70" y2="436.90"/>
<line x1="85.00" y1="422.10" x2="94.70" y2="431.80"/>
<line x1="85.00" y1="417.00" x2="94.70" y2="426.70"/>
<line x1="85.00" y1="411.90" x2="94.70" y2="421.60"/>
<line x1="85.00" y1="406.80" x2="94.70" y2="416.50"/>
<line x1="85.00" y1="401.70" x2="94.70" y2="411.40"/>
<line x1="85.00" y1="396.60" x2="94.70" y2="406.30"/>
<line x1="85.00" y1="391.50" x2="94.70" y2="401.20"/>
<line x1="85.00" y1="386.40" x2="94.70" y2="396.10"/>
<line x1="85.00" y1="381.30" x2="94.70" y2="391.00"/>
<line x1="85.00" y1="376.20" x2="94.70" y2="385.90"/>
<line x1="85.00" y1="371.10" x2="94.70" y2="380.80"/>
<line x1="85.00" y1="366.00" x2="94.70" y2="375.70"/>
<line x1="85.00" y1="360.90" x2="94.70" y2="370.60"/>
<line x1="85.00" y1="355.80" x2="94.70" y2="365.50"/>
<line x1="85.00" y1="350.70" x2="94.70" y2="360.40"/>
<line x1="85.00" y1="345.60" x2="94.70" y2="355.30"/>
</g>
</g>
<path d="M85.50,362.05H94.20M93.70,504.70V361.55" fill="none" stroke="#000" stroke-width="1.0"/>
<line x1="96.30" y1="339.07" x2="96.30" y2="332.03" stroke="#000" stroke-width="1.25" />
<line x1="93.90" y1="332.03" x2="98.70" y2="332.03" stroke="#000" stroke-width="1.25" />
<clipPath id="c24"><rect x="93.70" y="339.07" width="5.20" height="165.63"/></clipPath>
<rect x="93.70" y="339.07" width="5.20" height="165.63" fill="#fff"/>
<g clip-path="url(#c24)">
<rect x="94.60" y="499.10" width="1.60" height="1.60" fill="#000"/>
<rect x="94.60" y="492.90" width="1.60" height="1.60" fill="#000"/>
<rect x="94.60" y="486.70" width="1.60" height="1.60" fill="#000"/>
<rect x="94.60" y="480.50" width="1.60" height="1.60" fill="#000"/>
<rect x="94.60" y="474.30" width="1.60" height="1.60" fill="#000"/>
<rect x="94.60" y="468.10" width="1.60" height="1.60" fill="#000"/>
<rect x="94.60" y="461.90" width="1.60" height="1.60" fill="#000"/>
<rect x="94.60" y="455.70" width="1.60" height="1.60" fill="#000"/>
<rect x="94.60" y="449.50" width="1.60" height="1.60" fill="#000"/>
<rect x="94.60" y="443.30" width="1.60" height="1.60" fill="#000"/>
<rect x="94.60" y="437.10" width="1.60" height="1.60" fill="#000"/>
<rect x="94.60" y="430.90" width="1.60" height="1.60" fill="#000"/>
<rect x="94.60" y="424.70" width="1.60" height="1.60" fill="#000"/>
<rect x="94.60" y="418.50" width="1.60" height="1.60" fill="#000"/>
<rect x="94.60" y="412.30" width="1.60" height="1.60" fill="#000"/>
<rect x="94.60" y="406.10" width="1.60" height="1.60" fill="#000"/>
<rect x="94.60" y="399.90" width="1.60" height="1.60" fill="#000"/>
<rect x="94.60" y="393.70" width="1.60" height="1.60" fill="#000"/>
<rect x="94.60" y="387.50" width="1.60" height="1.60" fill="#000"/>
<rect x="94.60" y="381.30" width="1.60" height="1.60" fill="#000"/>
<rect x="94.60" y="375.10" width="1.60" height="1.60" fill="#000"/>
<rect x="94.60" y="368.90" width="1.60" height="1.60" fill="#000"/>
<rect x="94.60" y="362.70" width="1.60" height="1.60" fill="#000"/>
<rect x="94.60" y="356.50" width="1.60" height="1.60" fill="#000"/>
<rect x="94.60" y="350.30" width="1.60" height="1.60" fill="#000"/>
<rect x="94.60" y="344.10" width="1.60" height="1.60" fill="#000"/>
</g>
<path d="M93.70,504.70V338.57M93.20,339.07H99.40M98.90,504.70V338.57" fill="none" stroke="#000" stroke-width="1.0"/>
<line x1="101.95" y1="336.98" x2="101.95" y2="329.52" stroke="#000" stroke-width="1.25" />
<line x1="99.55" y1="329.52" x2="104.35" y2="329.52" stroke="#000" stroke-width="1.25" />
<clipPath id="c25"><rect x="98.90" y="336.98" width="6.10" height="167.72"/></clipPath>
<rect x="98.90" y="336.98" width="6.10" height="167.72" fill="#fff"/>
<g clip-path="url(#c25)">
<g stroke="#000" stroke-width="1.15">
<line x1="97.90" y1="513.22" x2="106.00" y2="503.50"/>
<line x1="97.90" y1="507.12" x2="106.00" y2="497.40"/>
<line x1="97.90" y1="501.02" x2="106.00" y2="491.30"/>
<line x1="97.90" y1="494.92" x2="106.00" y2="485.20"/>
<line x1="97.90" y1="488.82" x2="106.00" y2="479.10"/>
<line x1="97.90" y1="482.72" x2="106.00" y2="473.00"/>
<line x1="97.90" y1="476.62" x2="106.00" y2="466.90"/>
<line x1="97.90" y1="470.52" x2="106.00" y2="460.80"/>
<line x1="97.90" y1="464.42" x2="106.00" y2="454.70"/>
<line x1="97.90" y1="458.32" x2="106.00" y2="448.60"/>
<line x1="97.90" y1="452.22" x2="106.00" y2="442.50"/>
<line x1="97.90" y1="446.12" x2="106.00" y2="436.40"/>
<line x1="97.90" y1="440.02" x2="106.00" y2="430.30"/>
<line x1="97.90" y1="433.92" x2="106.00" y2="424.20"/>
<line x1="97.90" y1="427.82" x2="106.00" y2="418.10"/>
<line x1="97.90" y1="421.72" x2="106.00" y2="412.00"/>
<line x1="97.90" y1="415.62" x2="106.00" y2="405.90"/>
<line x1="97.90" y1="409.52" x2="106.00" y2="399.80"/>
<line x1="97.90" y1="403.42" x2="106.00" y2="393.70"/>
<line x1="97.90" y1="397.32" x2="106.00" y2="387.60"/>
<line x1="97.90" y1="391.22" x2="106.00" y2="381.50"/>
<line x1="97.90" y1="385.12" x2="106.00" y2="375.40"/>
<line x1="97.90" y1="379.02" x2="106.00" y2="369.30"/>
<line x1="97.90" y1="372.92" x2="106.00" y2="363.20"/>
<line x1="97.90" y1="366.82" x2="106.00" y2="357.10"/>
<line x1="97.90" y1="360.72" x2="106.00" y2="351.00"/>
<line x1="97.90" y1="354.62" x2="106.00" y2="344.90"/>
<line x1="97.90" y1="348.52" x2="106.00" y2="338.80"/>
<line x1="97.90" y1="342.42" x2="106.00" y2="332.70"/>
<line x1="97.90" y1="336.32" x2="106.00" y2="326.60"/>
<line x1="97.90" y1="330.22" x2="106.00" y2="320.50"/>
</g>
</g>
<path d="M98.90,504.70V336.48M98.40,336.98H105.50M105.00,504.70V336.48" fill="none" stroke="#000" stroke-width="1.0"/>
<line x1="108.10" y1="301.77" x2="108.10" y2="298.49" stroke="#000" stroke-width="1.25" />
<line x1="105.70" y1="298.49" x2="110.50" y2="298.49" stroke="#000" stroke-width="1.25" />
<clipPath id="c26"><rect x="105.00" y="301.77" width="6.20" height="202.93"/></clipPath>
<rect x="105.00" y="301.77" width="6.20" height="202.93" fill="#000"/>
<g clip-path="url(#c26)">
<rect x="106.60" y="501.10" width="2.00" height="2.00" fill="#fff"/>
<rect x="106.60" y="494.90" width="2.00" height="2.00" fill="#fff"/>
<rect x="106.60" y="488.70" width="2.00" height="2.00" fill="#fff"/>
<rect x="106.60" y="482.50" width="2.00" height="2.00" fill="#fff"/>
<rect x="106.60" y="476.30" width="2.00" height="2.00" fill="#fff"/>
<rect x="106.60" y="470.10" width="2.00" height="2.00" fill="#fff"/>
<rect x="106.60" y="463.90" width="2.00" height="2.00" fill="#fff"/>
<rect x="106.60" y="457.70" width="2.00" height="2.00" fill="#fff"/>
<rect x="106.60" y="451.50" width="2.00" height="2.00" fill="#fff"/>
<rect x="106.60" y="445.30" width="2.00" height="2.00" fill="#fff"/>
<rect x="106.60" y="439.10" width="2.00" height="2.00" fill="#fff"/>
<rect x="106.60" y="432.90" width="2.00" height="2.00" fill="#fff"/>
<rect x="106.60" y="426.70" width="2.00" height="2.00" fill="#fff"/>
<rect x="106.60" y="420.50" width="2.00" height="2.00" fill="#fff"/>
<rect x="106.60" y="414.30" width="2.00" height="2.00" fill="#fff"/>
<rect x="106.60" y="408.10" width="2.00" height="2.00" fill="#fff"/>
<rect x="106.60" y="401.90" width="2.00" height="2.00" fill="#fff"/>
<rect x="106.60" y="395.70" width="2.00" height="2.00" fill="#fff"/>
<rect x="106.60" y="389.50" width="2.00" height="2.00" fill="#fff"/>
<rect x="106.60" y="383.30" width="2.00" height="2.00" fill="#fff"/>
<rect x="106.60" y="377.10" width="2.00" height="2.00" fill="#fff"/>
<rect x="106.60" y="370.90" width="2.00" height="2.00" fill="#fff"/>
<rect x="106.60" y="364.70" width="2.00" height="2.00" fill="#fff"/>
<rect x="106.60" y="358.50" width="2.00" height="2.00" fill="#fff"/>
<rect x="106.60" y="352.30" width="2.00" height="2.00" fill="#fff"/>
<rect x="106.60" y="346.10" width="2.00" height="2.00" fill="#fff"/>
<rect x="106.60" y="339.90" width="2.00" height="2.00" fill="#fff"/>
<rect x="106.60" y="333.70" width="2.00" height="2.00" fill="#fff"/>
<rect x="106.60" y="327.50" width="2.00" height="2.00" fill="#fff"/>
<rect x="106.60" y="321.30" width="2.00" height="2.00" fill="#fff"/>
<rect x="106.60" y="315.10" width="2.00" height="2.00" fill="#fff"/>
<rect x="106.60" y="308.90" width="2.00" height="2.00" fill="#fff"/>
<rect x="106.60" y="302.70" width="2.00" height="2.00" fill="#fff"/>
</g>
<path d="M105.00,504.70V301.27M104.50,301.77H111.70M111.20,504.70V301.27" fill="none" stroke="#000" stroke-width="1.0"/>
<text x="72.80" y="506.76" font-family='"Liberation Serif", serif' font-size="19" font-weight="normal" text-anchor="middle" stroke="#000" stroke-width="0.3" >*</text>
<text x="92.30" y="518.60" font-family='"Liberation Serif", serif' font-size="12.4" font-weight="bold" text-anchor="middle" stroke="#000" stroke-width="0.3" letter-spacing="0.05">IL-8</text>
<text x="11.40" y="382.60" font-family='"Liberation Serif", serif' font-size="13.7" font-weight="bold" text-anchor="middle" stroke="#000" stroke-width="0.3" transform="rotate(-90 11.4 382.6)" letter-spacing="0.55">pg/mL</text>
<line x1="177.40" y1="294.30" x2="177.40" y2="505.15" stroke="#000" stroke-width="1.7" />
<line x1="175.20" y1="504.30" x2="177.40" y2="504.30" stroke="#000" stroke-width="1.3" />
<text x="170.35" y="509.00" font-family='"Liberation Serif", serif' font-size="13.7" font-weight="bold" text-anchor="end" stroke="#000" stroke-width="0.3" letter-spacing="0.75">0</text>
<line x1="175.20" y1="483.36" x2="177.40" y2="483.36" stroke="#000" stroke-width="1.3" />
<text x="170.35" y="488.00" font-family='"Liberation Serif", serif' font-size="13.7" font-weight="bold" text-anchor="end" stroke="#000" stroke-width="0.3" letter-spacing="0.75">20</text>
<line x1="175.20" y1="462.42" x2="177.40" y2="462.42" stroke="#000" stroke-width="1.3" />
<text x="170.35" y="467.00" font-family='"Liberation Serif", serif' font-size="13.7" font-weight="bold" text-anchor="end" stroke="#000" stroke-width="0.3" letter-spacing="0.75">40</text>
<line x1="175.20" y1="441.48" x2="177.40" y2="441.48" stroke="#000" stroke-width="1.3" />
<text x="170.35" y="446.00" font-family='"Liberation Serif", serif' font-size="13.7" font-weight="bold" text-anchor="end" stroke="#000" stroke-width="0.3" letter-spacing="0.75">60</text>
<line x1="175.20" y1="420.54" x2="177.40" y2="420.54" stroke="#000" stroke-width="1.3" />
<text x="170.35" y="425.00" font-family='"Liberation Serif", serif' font-size="13.7" font-weight="bold" text-anchor="end" stroke="#000" stroke-width="0.3" letter-spacing="0.75">80</text>
<line x1="175.20" y1="399.60" x2="177.40" y2="399.60" stroke="#000" stroke-width="1.3" />
<text x="170.35" y="404.00" font-family='"Liberation Serif", serif' font-size="13.7" font-weight="bold" text-anchor="end" stroke="#000" stroke-width="0.3" letter-spacing="0.75">100</text>
<line x1="175.20" y1="378.66" x2="177.40" y2="378.66" stroke="#000" stroke-width="1.3" />
<text x="170.35" y="383.00" font-family='"Liberation Serif", serif' font-size="13.7" font-weight="bold" text-anchor="end" stroke="#000" stroke-width="0.3" letter-spacing="0.75">120</text>
<line x1="175.20" y1="357.72" x2="177.40" y2="357.72" stroke="#000" stroke-width="1.3" />
<text x="170.35" y="362.00" font-family='"Liberation Serif", serif' font-size="13.7" font-weight="bold" text-anchor="end" stroke="#000" stroke-width="0.3" letter-spacing="0.75">140</text>
<line x1="175.20" y1="336.78" x2="177.40" y2="336.78" stroke="#000" stroke-width="1.3" />
<text x="170.35" y="341.00" font-family='"Liberation Serif", serif' font-size="13.7" font-weight="bold" text-anchor="end" stroke="#000" stroke-width="0.3" letter-spacing="0.75">160</text>
<line x1="175.20" y1="315.84" x2="177.40" y2="315.84" stroke="#000" stroke-width="1.3" />
<text x="170.35" y="320.00" font-family='"Liberation Serif", serif' font-size="13.7" font-weight="bold" text-anchor="end" stroke="#000" stroke-width="0.3" letter-spacing="0.75">180</text>
<line x1="175.20" y1="294.90" x2="177.40" y2="294.90" stroke="#000" stroke-width="1.3" />
<text x="170.35" y="299.00" font-family='"Liberation Serif", serif' font-size="13.7" font-weight="bold" text-anchor="end" stroke="#000" stroke-width="0.3" letter-spacing="0.75">200</text>
<line x1="176.55" y1="504.30" x2="520.00" y2="504.30" stroke="#000" stroke-width="1.5" />
<line x1="177.40" y1="504.30" x2="177.40" y2="507.20" stroke="#000" stroke-width="1.2" />
<line x1="220.00" y1="504.30" x2="220.00" y2="507.20" stroke="#000" stroke-width="1.2" />
<line x1="262.60" y1="504.30" x2="262.60" y2="507.20" stroke="#000" stroke-width="1.2" />
<line x1="305.20" y1="504.30" x2="305.20" y2="507.20" stroke="#000" stroke-width="1.2" />
<line x1="347.80" y1="504.30" x2="347.80" y2="507.20" stroke="#000" stroke-width="1.2" />
<line x1="390.40" y1="504.30" x2="390.40" y2="507.20" stroke="#000" stroke-width="1.2" />
<line x1="433.00" y1="504.30" x2="433.00" y2="507.20" stroke="#000" stroke-width="1.2" />
<line x1="475.60" y1="504.30" x2="475.60" y2="507.20" stroke="#000" stroke-width="1.2" />
<line x1="518.20" y1="504.30" x2="518.20" y2="507.20" stroke="#000" stroke-width="1.2" />
<text x="197.90" y="518.70" font-family='"Liberation Serif", serif' font-size="11.5" font-weight="bold" text-anchor="middle" stroke="#000" stroke-width="0.3" letter-spacing="0.4">IL-1β</text>
<text x="240.50" y="518.70" font-family='"Liberation Serif", serif' font-size="11.5" font-weight="bold" text-anchor="middle" stroke="#000" stroke-width="0.3" letter-spacing="0.4">IL-2</text>
<text x="282.40" y="518.70" font-family='"Liberation Serif", serif' font-size="11.5" font-weight="bold" text-anchor="middle" stroke="#000" stroke-width="0.3" letter-spacing="0.4">IL-4</text>
<text x="326.50" y="518.70" font-family='"Liberation Serif", serif' font-size="11.5" font-weight="bold" text-anchor="middle" stroke="#000" stroke-width="0.3" letter-spacing="0.4">IL-6</text>
<text x="368.30" y="518.70" font-family='"Liberation Serif", serif' font-size="11.5" font-weight="bold" text-anchor="middle" stroke="#000" stroke-width="0.3" letter-spacing="0.4">IL-10</text>
<text x="410.90" y="518.70" font-family='"Liberation Serif", serif' font-size="11.5" font-weight="bold" text-anchor="middle" stroke="#000" stroke-width="0.3" letter-spacing="0.4">IL-12</text>
<text x="453.50" y="518.70" font-family='"Liberation Serif", serif' font-size="11.5" font-weight="bold" text-anchor="middle" stroke="#000" stroke-width="0.3" letter-spacing="0.4">GM</text>
<text x="496.10" y="518.70" font-family='"Liberation Serif", serif' font-size="11.5" font-weight="bold" text-anchor="middle" stroke="#000" stroke-width="0.3" letter-spacing="0.4">IFN-γ</text>
<text x="454.40" y="532.10" font-family='"Liberation Serif", serif' font-size="11.5" font-weight="bold" text-anchor="middle" stroke="#000" stroke-width="0.3" letter-spacing="0.4">-CSF</text>
<line x1="185.40" y1="499.06" x2="185.40" y2="493.83" stroke="#000" stroke-width="1.4" />
<line x1="183.40" y1="493.83" x2="187.40" y2="493.83" stroke="#000" stroke-width="1.4" />
<rect x="182.50" y="499.06" width="5.40" height="5.24" fill="#fff" stroke="#000" stroke-width="1.2"/>
<line x1="190.95" y1="484.41" x2="190.95" y2="482.84" stroke="#000" stroke-width="1.4" />
<line x1="188.95" y1="482.84" x2="192.95" y2="482.84" stroke="#000" stroke-width="1.4" />
<clipPath id="c27"><rect x="187.90" y="484.41" width="5.70" height="19.89"/></clipPath>
<rect x="187.90" y="484.41" width="5.70" height="19.89" fill="#fff"/>
<g clip-path="url(#c27)">
<path d="M187.90,501.81 L190.30,503.10 L187.90,504.39Z M193.60,501.81 L191.20,503.10 L193.60,504.39Z" fill="#000"/>
<path d="M187.90,499.46 L190.30,500.75 L187.90,502.04Z M193.60,499.46 L191.20,500.75 L193.60,502.04Z" fill="#000"/>
<path d="M187.90,497.11 L190.30,498.40 L187.90,499.69Z M193.60,497.11 L191.20,498.40 L193.60,499.69Z" fill="#000"/>
<path d="M187.90,494.76 L190.30,496.05 L187.90,497.34Z M193.60,494.76 L191.20,496.05 L193.60,497.34Z" fill="#000"/>
<path d="M187.90,492.41 L190.30,493.70 L187.90,494.99Z M193.60,492.41 L191.20,493.70 L193.60,494.99Z" fill="#000"/>
<path d="M187.90,490.06 L190.30,491.35 L187.90,492.64Z M193.60,490.06 L191.20,491.35 L193.60,492.64Z" fill="#000"/>
<path d="M187.90,487.71 L190.30,489.00 L187.90,490.29Z M193.60,487.71 L191.20,489.00 L193.60,490.29Z" fill="#000"/>
<path d="M187.90,485.36 L190.30,486.65 L187.90,487.94Z M193.60,485.36 L191.20,486.65 L193.60,487.94Z" fill="#000"/>
<path d="M187.90,483.01 L190.30,484.30 L187.90,485.59Z M193.60,483.01 L191.20,484.30 L193.60,485.59Z" fill="#000"/>
</g>
<path d="M187.90,504.30V483.81M187.30,484.41H194.20M193.60,504.30V483.81" fill="none" stroke="#000" stroke-width="1.2"/>
<line x1="196.15" y1="488.39" x2="196.15" y2="487.34" stroke="#000" stroke-width="1.4" />
<line x1="194.15" y1="487.34" x2="198.15" y2="487.34" stroke="#000" stroke-width="1.4" />
<clipPath id="c28"><rect x="193.60" y="488.39" width="4.70" height="15.91"/></clipPath>
<rect x="193.60" y="488.39" width="4.70" height="15.91" fill="#fff"/>
<g clip-path="url(#c28)">
<g stroke="#000" stroke-width="1.4">
<line x1="192.60" y1="503.30" x2="199.30" y2="510.00"/>
<line x1="192.60" y1="497.60" x2="199.30" y2="504.30"/>
<line x1="192.60" y1="491.90" x2="199.30" y2="498.60"/>
<line x1="192.60" y1="486.20" x2="199.30" y2="492.90"/>
<line x1="192.60" y1="480.50" x2="199.30" y2="487.20"/>
</g>
</g>
<path d="M193.60,504.30V487.79M193.00,488.39H198.90M198.30,504.30V487.79" fill="none" stroke="#000" stroke-width="1.2"/>
<line x1="201.65" y1="476.03" x2="201.65" y2="475.19" stroke="#000" stroke-width="1.4" />
<line x1="199.65" y1="475.19" x2="203.65" y2="475.19" stroke="#000" stroke-width="1.4" />
<clipPath id="c29"><rect x="198.30" y="476.03" width="6.30" height="28.27"/></clipPath>
<rect x="198.30" y="476.03" width="6.30" height="28.27" fill="#fff"/>
<g clip-path="url(#c29)">
<rect x="200.75" y="500.60" width="1.40" height="1.40" fill="#000"/>
<rect x="200.75" y="494.40" width="1.40" height="1.40" fill="#000"/>
<rect x="200.75" y="488.20" width="1.40" height="1.40" fill="#000"/>
<rect x="200.75" y="482.00" width="1.40" height="1.40" fill="#000"/>
<rect x="200.75" y="475.80" width="1.40" height="1.40" fill="#000"/>
</g>
<path d="M198.30,504.30V475.43M197.70,476.03H205.20M204.60,504.30V475.43" fill="none" stroke="#000" stroke-width="1.2"/>
<line x1="206.80" y1="479.17" x2="206.80" y2="478.12" stroke="#000" stroke-width="1.4" />
<line x1="204.80" y1="478.12" x2="208.80" y2="478.12" stroke="#000" stroke-width="1.4" />
<clipPath id="c30"><rect x="204.60" y="479.17" width="4.00" height="25.13"/></clipPath>
<rect x="204.60" y="479.17" width="4.00" height="25.13" fill="#fff"/>
<g clip-path="url(#c30)">
<g stroke="#000" stroke-width="1.35">
<line x1="203.60" y1="511.80" x2="209.60" y2="502.80"/>
<line x1="203.60" y1="505.80" x2="209.60" y2="496.80"/>
<line x1="203.60" y1="499.80" x2="209.60" y2="490.80"/>
<line x1="203.60" y1="493.80" x2="209.60" y2="484.80"/>
<line x1="203.60" y1="487.80" x2="209.60" y2="478.80"/>
<line x1="203.60" y1="481.80" x2="209.60" y2="472.80"/>
<line x1="203.60" y1="475.80" x2="209.60" y2="466.80"/>
</g>
</g>
<path d="M204.60,504.30V478.57M204.00,479.17H209.20M208.60,504.30V478.57" fill="none" stroke="#000" stroke-width="1.2"/>
<line x1="211.70" y1="481.27" x2="211.70" y2="477.08" stroke="#000" stroke-width="1.4" />
<line x1="209.70" y1="477.08" x2="213.70" y2="477.08" stroke="#000" stroke-width="1.4" />
<clipPath id="c31"><rect x="208.60" y="481.27" width="5.80" height="23.03"/></clipPath>
<rect x="208.60" y="481.27" width="5.80" height="23.03" fill="#000"/>
<g clip-path="url(#c31)">
<rect x="210.05" y="498.15" width="1.90" height="1.90" fill="#fff"/>
<rect x="210.05" y="491.95" width="1.90" height="1.90" fill="#fff"/>
<rect x="210.05" y="485.75" width="1.90" height="1.90" fill="#fff"/>
<rect x="212.84" y="495.33" width="1.33" height="1.33" fill="#888"/>
<rect x="212.84" y="489.13" width="1.33" height="1.33" fill="#888"/>
<rect x="212.84" y="482.94" width="1.33" height="1.33" fill="#888"/>
</g>
<path d="M208.60,504.30V480.67M208.00,481.27H215.00M214.40,504.30V480.67" fill="none" stroke="#000" stroke-width="1.2"/>
<line x1="228.75" y1="499.06" x2="228.75" y2="493.83" stroke="#000" stroke-width="1.4" />
<line x1="226.75" y1="493.83" x2="230.75" y2="493.83" stroke="#000" stroke-width="1.4" />
<rect x="226.00" y="499.06" width="5.10" height="5.24" fill="#fff" stroke="#000" stroke-width="1.2"/>
<line x1="234.20" y1="481.79" x2="234.20" y2="480.22" stroke="#000" stroke-width="1.4" />
<line x1="232.20" y1="480.22" x2="236.20" y2="480.22" stroke="#000" stroke-width="1.4" />
<clipPath id="c32"><rect x="231.10" y="481.79" width="5.80" height="22.51"/></clipPath>
<rect x="231.10" y="481.79" width="5.80" height="22.51" fill="#fff"/>
<g clip-path="url(#c32)">
<path d="M231.10,501.81 L233.50,503.10 L231.10,504.39Z M236.90,501.81 L234.50,503.10 L236.90,504.39Z" fill="#000"/>
<path d="M231.10,499.46 L233.50,500.75 L231.10,502.04Z M236.90,499.46 L234.50,500.75 L236.90,502.04Z" fill="#000"/>
<path d="M231.10,497.11 L233.50,498.40 L231.10,499.69Z M236.90,497.11 L234.50,498.40 L236.90,499.69Z" fill="#000"/>
<path d="M231.10,494.76 L233.50,496.05 L231.10,497.34Z M236.90,494.76 L234.50,496.05 L236.90,497.34Z" fill="#000"/>
<path d="M231.10,492.41 L233.50,493.70 L231.10,494.99Z M236.90,492.41 L234.50,493.70 L236.90,494.99Z" fill="#000"/>
<path d="M231.10,490.06 L233.50,491.35 L231.10,492.64Z M236.90,490.06 L234.50,491.35 L236.90,492.64Z" fill="#000"/>
<path d="M231.10,487.71 L233.50,489.00 L231.10,490.29Z M236.90,487.71 L234.50,489.00 L236.90,490.29Z" fill="#000"/>
<path d="M231.10,485.36 L233.50,486.65 L231.10,487.94Z M236.90,485.36 L234.50,486.65 L236.90,487.94Z" fill="#000"/>
<path d="M231.10,483.01 L233.50,484.30 L231.10,485.59Z M236.90,483.01 L234.50,484.30 L236.90,485.59Z" fill="#000"/>
<path d="M231.10,480.66 L233.50,481.95 L231.10,483.24Z M236.90,480.66 L234.50,481.95 L236.90,483.24Z" fill="#000"/>
<path d="M231.10,478.31 L233.50,479.60 L231.10,480.89Z M236.90,478.31 L234.50,479.60 L236.90,480.89Z" fill="#000"/>
</g>
<path d="M231.10,504.30V481.19M230.50,481.79H237.50M236.90,504.30V481.19" fill="none" stroke="#000" stroke-width="1.2"/>
<line x1="239.55" y1="483.88" x2="239.55" y2="482.31" stroke="#000" stroke-width="1.4" />
<line x1="237.55" y1="482.31" x2="241.55" y2="482.31" stroke="#000" stroke-width="1.4" />
<clipPath id="c33"><rect x="236.90" y="483.88" width="4.90" height="20.42"/></clipPath>
<rect x="236.90" y="483.88" width="4.90" height="20.42" fill="#fff"/>
<g clip-path="url(#c33)">
<g stroke="#000" stroke-width="1.4">
<line x1="235.90" y1="503.30" x2="242.80" y2="510.20"/>
<line x1="235.90" y1="497.60" x2="242.80" y2="504.50"/>
<line x1="235.90" y1="491.90" x2="242.80" y2="498.80"/>
<line x1="235.90" y1="486.20" x2="242.80" y2="493.10"/>
<line x1="235.90" y1="480.50" x2="242.80" y2="487.40"/>
<line x1="235.90" y1="474.80" x2="242.80" y2="481.70"/>
</g>
</g>
<path d="M236.90,504.30V483.28M236.30,483.88H242.40M241.80,504.30V483.28" fill="none" stroke="#000" stroke-width="1.2"/>
<line x1="244.15" y1="481.27" x2="244.15" y2="475.61" stroke="#000" stroke-width="1.4" />
<line x1="242.15" y1="475.61" x2="246.15" y2="475.61" stroke="#000" stroke-width="1.4" />
<clipPath id="c34"><rect x="241.80" y="481.27" width="4.30" height="23.03"/></clipPath>
<rect x="241.80" y="481.27" width="4.30" height="23.03" fill="#fff"/>
<g clip-path="url(#c34)">
<rect x="243.25" y="500.60" width="1.40" height="1.40" fill="#000"/>
<rect x="243.25" y="494.40" width="1.40" height="1.40" fill="#000"/>
<rect x="243.25" y="488.20" width="1.40" height="1.40" fill="#000"/>
<rect x="243.25" y="482.00" width="1.40" height="1.40" fill="#000"/>
</g>
<path d="M241.80,504.30V480.67M241.20,481.27H246.70M246.10,504.30V480.67" fill="none" stroke="#000" stroke-width="1.2"/>
<line x1="248.90" y1="476.55" x2="248.90" y2="475.19" stroke="#000" stroke-width="1.4" />
<line x1="246.90" y1="475.19" x2="250.90" y2="475.19" stroke="#000" stroke-width="1.4" />
<clipPath id="c35"><rect x="246.10" y="476.55" width="5.20" height="27.75"/></clipPath>
<rect x="246.10" y="476.55" width="5.20" height="27.75" fill="#fff"/>
<g clip-path="url(#c35)">
<g stroke="#000" stroke-width="1.35">
<line x1="245.10" y1="513.60" x2="252.30" y2="502.80"/>
<line x1="245.10" y1="507.60" x2="252.30" y2="496.80"/>
<line x1="245.10" y1="501.60" x2="252.30" y2="490.80"/>
<line x1="245.10" y1="495.60" x2="252.30" y2="484.80"/>
<line x1="245.10" y1="489.60" x2="252.30" y2="478.80"/>
<line x1="245.10" y1="483.60" x2="252.30" y2="472.80"/>
<line x1="245.10" y1="477.60" x2="252.30" y2="466.80"/>
<line x1="245.10" y1="471.60" x2="252.30" y2="460.80"/>
</g>
</g>
<path d="M246.10,504.30V475.95M245.50,476.55H251.90M251.30,504.30V475.95" fill="none" stroke="#000" stroke-width="1.2"/>
<line x1="254.40" y1="481.79" x2="254.40" y2="476.24" stroke="#000" stroke-width="1.4" />
<line x1="252.40" y1="476.24" x2="256.40" y2="476.24" stroke="#000" stroke-width="1.4" />
<clipPath id="c36"><rect x="251.30" y="481.79" width="5.80" height="22.51"/></clipPath>
<rect x="251.30" y="481.79" width="5.80" height="22.51" fill="#000"/>
<g clip-path="url(#c36)">
<rect x="252.75" y="498.15" width="1.90" height="1.90" fill="#fff"/>
<rect x="252.75" y="491.95" width="1.90" height="1.90" fill="#fff"/>
<rect x="252.75" y="485.75" width="1.90" height="1.90" fill="#fff"/>
<rect x="255.53" y="495.33" width="1.33" height="1.33" fill="#888"/>
<rect x="255.53" y="489.13" width="1.33" height="1.33" fill="#888"/>
<rect x="255.53" y="482.94" width="1.33" height="1.33" fill="#888"/>
</g>
<path d="M251.30,504.30V481.19M250.70,481.79H257.70M257.10,504.30V481.19" fill="none" stroke="#000" stroke-width="1.2"/>
<line x1="311.80" y1="500.11" x2="311.80" y2="495.92" stroke="#000" stroke-width="1.4" />
<line x1="309.80" y1="495.92" x2="313.80" y2="495.92" stroke="#000" stroke-width="1.4" />
<rect x="308.70" y="500.11" width="5.80" height="4.19" fill="#fff" stroke="#000" stroke-width="1.2"/>
<line x1="317.50" y1="420.12" x2="317.50" y2="406.09" stroke="#000" stroke-width="1.4" />
<line x1="315.50" y1="406.09" x2="319.50" y2="406.09" stroke="#000" stroke-width="1.4" />
<clipPath id="c37"><rect x="314.50" y="420.12" width="5.60" height="84.18"/></clipPath>
<rect x="314.50" y="420.12" width="5.60" height="84.18" fill="#fff"/>
<g clip-path="url(#c37)">
<path d="M314.50,501.81 L316.90,503.10 L314.50,504.39Z M320.10,501.81 L317.70,503.10 L320.10,504.39Z" fill="#000"/>
<path d="M314.50,499.46 L316.90,500.75 L314.50,502.04Z M320.10,499.46 L317.70,500.75 L320.10,502.04Z" fill="#000"/>
<path d="M314.50,497.11 L316.90,498.40 L314.50,499.69Z M320.10,497.11 L317.70,498.40 L320.10,499.69Z" fill="#000"/>
<path d="M314.50,494.76 L316.90,496.05 L314.50,497.34Z M320.10,494.76 L317.70,496.05 L320.10,497.34Z" fill="#000"/>
<path d="M314.50,492.41 L316.90,493.70 L314.50,494.99Z M320.10,492.41 L317.70,493.70 L320.10,494.99Z" fill="#000"/>
<path d="M314.50,490.06 L316.90,491.35 L314.50,492.64Z M320.10,490.06 L317.70,491.35 L320.10,492.64Z" fill="#000"/>
<path d="M314.50,487.71 L316.90,489.00 L314.50,490.29Z M320.10,487.71 L317.70,489.00 L320.10,490.29Z" fill="#000"/>
<path d="M314.50,485.36 L316.90,486.65 L314.50,487.94Z M320.10,485.36 L317.70,486.65 L320.10,487.94Z" fill="#000"/>
<path d="M314.50,483.01 L316.90,484.30 L314.50,485.59Z M320.10,483.01 L317.70,484.30 L320.10,485.59Z" fill="#000"/>
<path d="M314.50,480.66 L316.90,481.95 L314.50,483.24Z M320.10,480.66 L317.70,481.95 L320.10,483.24Z" fill="#000"/>
<path d="M314.50,478.31 L316.90,479.60 L314.50,480.89Z M320.10,478.31 L317.70,479.60 L320.10,480.89Z" fill="#000"/>
<path d="M314.50,475.96 L316.90,477.25 L314.50,478.54Z M320.10,475.96 L317.70,477.25 L320.10,478.54Z" fill="#000"/>
<path d="M314.50,473.61 L316.90,474.90 L314.50,476.19Z M320.10,473.61 L317.70,474.90 L320.10,476.19Z" fill="#000"/>
<path d="M314.50,471.26 L316.90,472.55 L314.50,473.84Z M320.10,471.26 L317.70,472.55 L320.10,473.84Z" fill="#000"/>
<path d="M314.50,468.91 L316.90,470.20 L314.50,471.49Z M320.10,468.91 L317.70,470.20 L320.10,471.49Z" fill="#000"/>
<path d="M314.50,466.56 L316.90,467.85 L314.50,469.14Z M320.10,466.56 L317.70,467.85 L320.10,469.14Z" fill="#000"/>
<path d="M314.50,464.21 L316.90,465.50 L314.50,466.79Z M320.10,464.21 L317.70,465.50 L320.10,466.79Z" fill="#000"/>
<path d="M314.50,461.86 L316.90,463.15 L314.50,464.44Z M320.10,461.86 L317.70,463.15 L320.10,464.44Z" fill="#000"/>
<path d="M314.50,459.51 L316.90,460.80 L314.50,462.09Z M320.10,459.51 L317.70,460.80 L320.10,462.09Z" fill="#000"/>
<path d="M314.50,457.16 L316.90,458.45 L314.50,459.74Z M320.10,457.16 L317.70,458.45 L320.10,459.74Z" fill="#000"/>
<path d="M314.50,454.81 L316.90,456.10 L314.50,457.39Z M320.10,454.81 L317.70,456.10 L320.10,457.39Z" fill="#000"/>
<path d="M314.50,452.46 L316.90,453.75 L314.50,455.04Z M320.10,452.46 L317.70,453.75 L320.10,455.04Z" fill="#000"/>
<path d="M314.50,450.11 L316.90,451.40 L314.50,452.69Z M320.10,450.11 L317.70,451.40 L320.10,452.69Z" fill="#000"/>
<path d="M314.50,447.76 L316.90,449.05 L314.50,450.34Z M320.10,447.76 L317.70,449.05 L320.10,450.34Z" fill="#000"/>
<path d="M314.50,445.41 L316.90,446.70 L314.50,447.99Z M320.10,445.41 L317.70,446.70 L320.10,447.99Z" fill="#000"/>
<path d="M314.50,443.06 L316.90,444.35 L314.50,445.64Z M320.10,443.06 L317.70,444.35 L320.10,445.64Z" fill="#000"/>
<path d="M314.50,440.71 L316.90,442.00 L314.50,443.29Z M320.10,440.71 L317.70,442.00 L320.10,443.29Z" fill="#000"/>
<path d="M314.50,438.36 L316.90,439.65 L314.50,440.94Z M320.10,438.36 L317.70,439.65 L320.10,440.94Z" fill="#000"/>
<path d="M314.50,436.01 L316.90,437.30 L314.50,438.59Z M320.10,436.01 L317.70,437.30 L320.10,438.59Z" fill="#000"/>
<path d="M314.50,433.66 L316.90,434.95 L314.50,436.24Z M320.10,433.66 L317.70,434.95 L320.10,436.24Z" fill="#000"/>
<path d="M314.50,431.31 L316.90,432.60 L314.50,433.89Z M320.10,431.31 L317.70,432.60 L320.10,433.89Z" fill="#000"/>
<path d="M314.50,428.96 L316.90,430.25 L314.50,431.54Z M320.10,428.96 L317.70,430.25 L320.10,431.54Z" fill="#000"/>
<path d="M314.50,426.61 L316.90,427.90 L314.50,429.19Z M320.10,426.61 L317.70,427.90 L320.10,429.19Z" fill="#000"/>
<path d="M314.50,424.26 L316.90,425.55 L314.50,426.84Z M320.10,424.26 L317.70,425.55 L320.10,426.84Z" fill="#000"/>
<path d="M314.50,421.91 L316.90,423.20 L314.50,424.49Z M320.10,421.91 L317.70,423.20 L320.10,424.49Z" fill="#000"/>
<path d="M314.50,419.56 L316.90,420.85 L314.50,422.14Z M320.10,419.56 L317.70,420.85 L320.10,422.14Z" fill="#000"/>
<path d="M314.50,417.21 L316.90,418.50 L314.50,419.79Z M320.10,417.21 L317.70,418.50 L320.10,419.79Z" fill="#000"/>
</g>
<path d="M314.50,504.30V419.52M313.90,420.12H320.70M320.10,504.30V419.52" fill="none" stroke="#000" stroke-width="1.2"/>
<line x1="323.85" y1="408.60" x2="323.85" y2="382.85" stroke="#000" stroke-width="1.4" />
<line x1="321.85" y1="382.85" x2="325.85" y2="382.85" stroke="#000" stroke-width="1.4" />
<clipPath id="c38"><rect x="320.10" y="408.60" width="7.10" height="95.70"/></clipPath>
<rect x="320.10" y="408.60" width="7.10" height="95.70" fill="#fff"/>
<g clip-path="url(#c38)">
<g stroke="#000" stroke-width="1.4">
<line x1="319.10" y1="503.30" x2="328.20" y2="512.40"/>
<line x1="319.10" y1="497.60" x2="328.20" y2="506.70"/>
<line x1="319.10" y1="491.90" x2="328.20" y2="501.00"/>
<line x1="319.10" y1="486.20" x2="328.20" y2="495.30"/>
<line x1="319.10" y1="480.50" x2="328.20" y2="489.60"/>
<line x1="319.10" y1="474.80" x2="328.20" y2="483.90"/>
<line x1="319.10" y1="469.10" x2="328.20" y2="478.20"/>
<line x1="319.10" y1="463.40" x2="328.20" y2="472.50"/>
<line x1="319.10" y1="457.70" x2="328.20" y2="466.80"/>
<line x1="319.10" y1="452.00" x2="328.20" y2="461.10"/>
<line x1="319.10" y1="446.30" x2="328.20" y2="455.40"/>
<line x1="319.10" y1="440.60" x2="328.20" y2="449.70"/>
<line x1="319.10" y1="434.90" x2="328.20" y2="444.00"/>
<line x1="319.10" y1="429.20" x2="328.20" y2="438.30"/>
<line x1="319.10" y1="423.50" x2="328.20" y2="432.60"/>
<line x1="319.10" y1="417.80" x2="328.20" y2="426.90"/>
<line x1="319.10" y1="412.10" x2="328.20" y2="421.20"/>
<line x1="319.10" y1="406.40" x2="328.20" y2="415.50"/>
<line x1="319.10" y1="400.70" x2="328.20" y2="409.80"/>
<line x1="319.10" y1="395.00" x2="328.20" y2="404.10"/>
</g>
</g>
<path d="M320.10,504.30V408.00M319.50,408.60H327.80M327.20,504.30V408.00" fill="none" stroke="#000" stroke-width="1.2"/>
<line x1="330.20" y1="407.98" x2="330.20" y2="381.80" stroke="#000" stroke-width="1.4" />
<line x1="328.20" y1="381.80" x2="332.20" y2="381.80" stroke="#000" stroke-width="1.4" />
<clipPath id="c39"><rect x="327.20" y="407.98" width="5.60" height="96.32"/></clipPath>
<rect x="327.20" y="407.98" width="5.60" height="96.32" fill="#fff"/>
<g clip-path="url(#c39)">
<rect x="329.30" y="500.60" width="1.40" height="1.40" fill="#000"/>
<rect x="329.30" y="494.40" width="1.40" height="1.40" fill="#000"/>
<rect x="329.30" y="488.20" width="1.40" height="1.40" fill="#000"/>
<rect x="329.30" y="482.00" width="1.40" height="1.40" fill="#000"/>
<rect x="329.30" y="475.80" width="1.40" height="1.40" fill="#000"/>
<rect x="329.30" y="469.60" width="1.40" height="1.40" fill="#000"/>
<rect x="329.30" y="463.40" width="1.40" height="1.40" fill="#000"/>
<rect x="329.30" y="457.20" width="1.40" height="1.40" fill="#000"/>
<rect x="329.30" y="451.00" width="1.40" height="1.40" fill="#000"/>
<rect x="329.30" y="444.80" width="1.40" height="1.40" fill="#000"/>
<rect x="329.30" y="438.60" width="1.40" height="1.40" fill="#000"/>
<rect x="329.30" y="432.40" width="1.40" height="1.40" fill="#000"/>
<rect x="329.30" y="426.20" width="1.40" height="1.40" fill="#000"/>
<rect x="329.30" y="420.00" width="1.40" height="1.40" fill="#000"/>
<rect x="329.30" y="413.80" width="1.40" height="1.40" fill="#000"/>
<rect x="329.30" y="407.60" width="1.40" height="1.40" fill="#000"/>
</g>
<path d="M327.20,504.30V407.38M326.60,407.98H333.40M332.80,504.30V407.38" fill="none" stroke="#000" stroke-width="1.2"/>
<line x1="335.30" y1="364.84" x2="335.30" y2="361.91" stroke="#000" stroke-width="1.4" />
<line x1="333.30" y1="361.91" x2="337.30" y2="361.91" stroke="#000" stroke-width="1.4" />
<clipPath id="c40"><rect x="332.80" y="364.84" width="4.60" height="139.46"/></clipPath>
<rect x="332.80" y="364.84" width="4.60" height="139.46" fill="#fff"/>
<g clip-path="url(#c40)">
<g stroke="#000" stroke-width="1.35">
<line x1="331.80" y1="512.70" x2="338.40" y2="502.80"/>
<line x1="331.80" y1="506.70" x2="338.40" y2="496.80"/>
<line x1="331.80" y1="500.70" x2="338.40" y2="490.80"/>
<line x1="331.80" y1="494.70" x2="338.40" y2="484.80"/>
<line x1="331.80" y1="488.70" x2="338.40" y2="478.80"/>
<line x1="331.80" y1="482.70" x2="338.40" y2="472.80"/>
<line x1="331.80" y1="476.70" x2="338.40" y2="466.80"/>
<line x1="331.80" y1="470.70" x2="338.40" y2="460.80"/>
<line x1="331.80" y1="464.70" x2="338.40" y2="454.80"/>
<line x1="331.80" y1="458.70" x2="338.40" y2="448.80"/>
<line x1="331.80" y1="452.70" x2="338.40" y2="442.80"/>
<line x1="331.80" y1="446.70" x2="338.40" y2="436.80"/>
<line x1="331.80" y1="440.70" x2="338.40" y2="430.80"/>
<line x1="331.80" y1="434.70" x2="338.40" y2="424.80"/>
<line x1="331.80" y1="428.70" x2="338.40" y2="418.80"/>
<line x1="331.80" y1="422.70" x2="338.40" y2="412.80"/>
<line x1="331.80" y1="416.70" x2="338.40" y2="406.80"/>
<line x1="331.80" y1="410.70" x2="338.40" y2="400.80"/>
<line x1="331.80" y1="404.70" x2="338.40" y2="394.80"/>
<line x1="331.80" y1="398.70" x2="338.40" y2="388.80"/>
<line x1="331.80" y1="392.70" x2="338.40" y2="382.80"/>
<line x1="331.80" y1="386.70" x2="338.40" y2="376.80"/>
<line x1="331.80" y1="380.70" x2="338.40" y2="370.80"/>
<line x1="331.80" y1="374.70" x2="338.40" y2="364.80"/>
<line x1="331.80" y1="368.70" x2="338.40" y2="358.80"/>
<line x1="331.80" y1="362.70" x2="338.40" y2="352.80"/>
</g>
</g>
<path d="M332.80,504.30V364.24M332.20,364.84H338.00M337.40,504.30V364.24" fill="none" stroke="#000" stroke-width="1.2"/>
<line x1="340.95" y1="348.09" x2="340.95" y2="341.18" stroke="#000" stroke-width="1.4" />
<line x1="338.95" y1="341.18" x2="342.95" y2="341.18" stroke="#000" stroke-width="1.4" />
<clipPath id="c41"><rect x="337.40" y="348.09" width="6.70" height="156.21"/></clipPath>
<rect x="337.40" y="348.09" width="6.70" height="156.21" fill="#000"/>
<g clip-path="url(#c41)">
<rect x="338.85" y="498.15" width="1.90" height="1.90" fill="#fff"/>
<rect x="338.85" y="491.95" width="1.90" height="1.90" fill="#fff"/>
<rect x="338.85" y="485.75" width="1.90" height="1.90" fill="#fff"/>
<rect x="338.85" y="479.55" width="1.90" height="1.90" fill="#fff"/>
<rect x="338.85" y="473.35" width="1.90" height="1.90" fill="#fff"/>
<rect x="338.85" y="467.15" width="1.90" height="1.90" fill="#fff"/>
<rect x="338.85" y="460.95" width="1.90" height="1.90" fill="#fff"/>
<rect x="338.85" y="454.75" width="1.90" height="1.90" fill="#fff"/>
<rect x="338.85" y="448.55" width="1.90" height="1.90" fill="#fff"/>
<rect x="338.85" y="442.35" width="1.90" height="1.90" fill="#fff"/>
<rect x="338.85" y="436.15" width="1.90" height="1.90" fill="#fff"/>
<rect x="338.85" y="429.95" width="1.90" height="1.90" fill="#fff"/>
<rect x="338.85" y="423.75" width="1.90" height="1.90" fill="#fff"/>
<rect x="338.85" y="417.55" width="1.90" height="1.90" fill="#fff"/>
<rect x="338.85" y="411.35" width="1.90" height="1.90" fill="#fff"/>
<rect x="338.85" y="405.15" width="1.90" height="1.90" fill="#fff"/>
<rect x="338.85" y="398.95" width="1.90" height="1.90" fill="#fff"/>
<rect x="338.85" y="392.75" width="1.90" height="1.90" fill="#fff"/>
<rect x="338.85" y="386.55" width="1.90" height="1.90" fill="#fff"/>
<rect x="338.85" y="380.35" width="1.90" height="1.90" fill="#fff"/>
<rect x="338.85" y="374.15" width="1.90" height="1.90" fill="#fff"/>
<rect x="338.85" y="367.95" width="1.90" height="1.90" fill="#fff"/>
<rect x="338.85" y="361.75" width="1.90" height="1.90" fill="#fff"/>
<rect x="338.85" y="355.55" width="1.90" height="1.90" fill="#fff"/>
<rect x="338.85" y="349.35" width="1.90" height="1.90" fill="#fff"/>
<rect x="341.63" y="495.33" width="1.33" height="1.33" fill="#888"/>
<rect x="341.63" y="489.13" width="1.33" height="1.33" fill="#888"/>
<rect x="341.63" y="482.94" width="1.33" height="1.33" fill="#888"/>
<rect x="341.63" y="476.74" width="1.33" height="1.33" fill="#888"/>
<rect x="341.63" y="470.54" width="1.33" height="1.33" fill="#888"/>
<rect x="341.63" y="464.34" width="1.33" height="1.33" fill="#888"/>
<rect x="341.63" y="458.14" width="1.33" height="1.33" fill="#888"/>
<rect x="341.63" y="451.94" width="1.33" height="1.33" fill="#888"/>
<rect x="341.63" y="445.74" width="1.33" height="1.33" fill="#888"/>
<rect x="341.63" y="439.54" width="1.33" height="1.33" fill="#888"/>
<rect x="341.63" y="433.34" width="1.33" height="1.33" fill="#888"/>
<rect x="341.63" y="427.14" width="1.33" height="1.33" fill="#888"/>
<rect x="341.63" y="420.94" width="1.33" height="1.33" fill="#888"/>
<rect x="341.63" y="414.74" width="1.33" height="1.33" fill="#888"/>
<rect x="341.63" y="408.54" width="1.33" height="1.33" fill="#888"/>
<rect x="341.63" y="402.34" width="1.33" height="1.33" fill="#888"/>
<rect x="341.63" y="396.14" width="1.33" height="1.33" fill="#888"/>
<rect x="341.63" y="389.94" width="1.33" height="1.33" fill="#888"/>
<rect x="341.63" y="383.74" width="1.33" height="1.33" fill="#888"/>
<rect x="341.63" y="377.54" width="1.33" height="1.33" fill="#888"/>
<rect x="341.63" y="371.34" width="1.33" height="1.33" fill="#888"/>
<rect x="341.63" y="365.14" width="1.33" height="1.33" fill="#888"/>
<rect x="341.63" y="358.94" width="1.33" height="1.33" fill="#888"/>
<rect x="341.63" y="352.74" width="1.33" height="1.33" fill="#888"/>
</g>
<path d="M337.40,504.30V347.49M336.80,348.09H344.70M344.10,504.30V347.49" fill="none" stroke="#000" stroke-width="1.2"/>
<line x1="444.90" y1="500.11" x2="444.90" y2="494.35" stroke="#000" stroke-width="1.4" />
<line x1="442.90" y1="494.35" x2="446.90" y2="494.35" stroke="#000" stroke-width="1.4" />
<clipPath id="c42"><rect x="441.50" y="500.11" width="6.40" height="4.19"/></clipPath>
<rect x="441.50" y="500.11" width="6.40" height="4.19" fill="#fff"/>
<g clip-path="url(#c42)">
<path d="M441.50,501.81 L443.90,503.10 L441.50,504.39Z M447.90,501.81 L445.50,503.10 L447.90,504.39Z" fill="#000"/>
<path d="M441.50,499.46 L443.90,500.75 L441.50,502.04Z M447.90,499.46 L445.50,500.75 L447.90,502.04Z" fill="#000"/>
<path d="M441.50,497.11 L443.90,498.40 L441.50,499.69Z M447.90,497.11 L445.50,498.40 L447.90,499.69Z" fill="#000"/>
</g>
<path d="M441.50,504.30V499.51M440.90,500.11H448.50M447.90,504.30V499.51" fill="none" stroke="#000" stroke-width="1.2"/>
<clipPath id="c43"><rect x="447.90" y="502.21" width="5.10" height="2.09"/></clipPath>
<rect x="447.90" y="502.21" width="5.10" height="2.09" fill="#fff"/>
<g clip-path="url(#c43)">
<g stroke="#000" stroke-width="1.4">
<line x1="446.90" y1="503.30" x2="454.00" y2="510.40"/>
<line x1="446.90" y1="497.60" x2="454.00" y2="504.70"/>
<line x1="446.90" y1="491.90" x2="454.00" y2="499.00"/>
</g>
</g>
<path d="M447.90,504.30V501.61M447.30,502.21H453.60M453.00,504.30V501.61" fill="none" stroke="#000" stroke-width="1.2"/>
<line x1="456.40" y1="500.64" x2="456.40" y2="499.59" stroke="#000" stroke-width="1.4" />
<line x1="454.40" y1="499.59" x2="458.40" y2="499.59" stroke="#000" stroke-width="1.4" />
<clipPath id="c44"><rect x="453.00" y="500.64" width="6.40" height="3.66"/></clipPath>
<rect x="453.00" y="500.64" width="6.40" height="3.66" fill="#fff"/>
<g clip-path="url(#c44)">
<rect x="455.50" y="500.60" width="1.40" height="1.40" fill="#000"/>
</g>
<path d="M453.00,504.30V500.04M452.40,500.64H460.00M459.40,504.30V500.04" fill="none" stroke="#000" stroke-width="1.2"/>
<line x1="462.20" y1="498.33" x2="462.20" y2="492.78" stroke="#000" stroke-width="1.4" />
<line x1="460.20" y1="492.78" x2="464.20" y2="492.78" stroke="#000" stroke-width="1.4" />
<clipPath id="c45"><rect x="459.40" y="498.33" width="5.20" height="5.97"/></clipPath>
<rect x="459.40" y="498.33" width="5.20" height="5.97" fill="#fff"/>
<g clip-path="url(#c45)">
<g stroke="#000" stroke-width="1.35">
<line x1="458.40" y1="513.60" x2="465.60" y2="502.80"/>
<line x1="458.40" y1="507.60" x2="465.60" y2="496.80"/>
<line x1="458.40" y1="501.60" x2="465.60" y2="490.80"/>
<line x1="458.40" y1="495.60" x2="465.60" y2="484.80"/>
</g>
</g>
<path d="M459.40,504.30V497.73M458.80,498.33H465.20M464.60,504.30V497.73" fill="none" stroke="#000" stroke-width="1.2"/>
<line x1="468.00" y1="495.19" x2="468.00" y2="481.27" stroke="#000" stroke-width="1.4" />
<line x1="466.00" y1="481.27" x2="470.00" y2="481.27" stroke="#000" stroke-width="1.4" />
<clipPath id="c46"><rect x="464.60" y="495.19" width="6.40" height="9.11"/></clipPath>
<rect x="464.60" y="495.19" width="6.40" height="9.11" fill="#000"/>
<g clip-path="url(#c46)">
<rect x="466.05" y="498.15" width="1.90" height="1.90" fill="#fff"/>
<rect x="468.83" y="495.33" width="1.33" height="1.33" fill="#888"/>
</g>
<path d="M464.60,504.30V494.59M464.00,495.19H471.60M471.00,504.30V494.59" fill="none" stroke="#000" stroke-width="1.2"/>
<line x1="486.75" y1="486.92" x2="486.75" y2="481.48" stroke="#000" stroke-width="1.4" />
<line x1="484.75" y1="481.48" x2="488.75" y2="481.48" stroke="#000" stroke-width="1.4" />
<clipPath id="c47"><rect x="483.50" y="486.92" width="6.10" height="17.38"/></clipPath>
<rect x="483.50" y="486.92" width="6.10" height="17.38" fill="#fff"/>
<g clip-path="url(#c47)">
<rect x="485.85" y="502.15" width="1.30" height="1.30" fill="#000"/>
<rect x="485.85" y="498.45" width="1.30" height="1.30" fill="#000"/>
<rect x="485.85" y="494.75" width="1.30" height="1.30" fill="#000"/>
<rect x="485.85" y="491.05" width="1.30" height="1.30" fill="#000"/>
<rect x="485.85" y="487.35" width="1.30" height="1.30" fill="#000"/>
</g>
<path d="M483.50,504.30V486.32M482.90,486.92H490.20M489.60,504.30V486.32" fill="none" stroke="#000" stroke-width="1.2"/>
<line x1="492.70" y1="492.68" x2="492.70" y2="474.77" stroke="#000" stroke-width="1.4" />
<line x1="490.70" y1="474.77" x2="494.70" y2="474.77" stroke="#000" stroke-width="1.4" />
<clipPath id="c48"><rect x="489.60" y="492.68" width="5.80" height="11.62"/></clipPath>
<rect x="489.60" y="492.68" width="5.80" height="11.62" fill="#fff"/>
<g clip-path="url(#c48)">
<g stroke="#000" stroke-width="1.4">
<line x1="488.60" y1="503.30" x2="496.40" y2="511.10"/>
<line x1="488.60" y1="497.60" x2="496.40" y2="505.40"/>
<line x1="488.60" y1="491.90" x2="496.40" y2="499.70"/>
<line x1="488.60" y1="486.20" x2="496.40" y2="494.00"/>
<line x1="488.60" y1="480.50" x2="496.40" y2="488.30"/>
</g>
</g>
<path d="M489.60,504.30V492.08M489.00,492.68H496.00M495.40,504.30V492.08" fill="none" stroke="#000" stroke-width="1.2"/>
<line x1="498.75" y1="478.65" x2="498.75" y2="469.54" stroke="#000" stroke-width="1.4" />
<line x1="496.75" y1="469.54" x2="500.75" y2="469.54" stroke="#000" stroke-width="1.4" />
<clipPath id="c49"><rect x="495.40" y="478.65" width="6.30" height="25.65"/></clipPath>
<rect x="495.40" y="478.65" width="6.30" height="25.65" fill="#fff"/>
<g clip-path="url(#c49)">
<rect x="497.85" y="500.60" width="1.40" height="1.40" fill="#000"/>
<rect x="497.85" y="494.40" width="1.40" height="1.40" fill="#000"/>
<rect x="497.85" y="488.20" width="1.40" height="1.40" fill="#000"/>
<rect x="497.85" y="482.00" width="1.40" height="1.40" fill="#000"/>
</g>
<path d="M495.40,504.30V478.05M494.80,478.65H502.30M501.70,504.30V478.05" fill="none" stroke="#000" stroke-width="1.2"/>
<line x1="504.30" y1="494.25" x2="504.30" y2="475.72" stroke="#000" stroke-width="1.4" />
<line x1="502.30" y1="475.72" x2="506.30" y2="475.72" stroke="#000" stroke-width="1.4" />
<clipPath id="c50"><rect x="501.70" y="494.25" width="4.80" height="10.05"/></clipPath>
<rect x="501.70" y="494.25" width="4.80" height="10.05" fill="#fff"/>
<g clip-path="url(#c50)">
<g stroke="#000" stroke-width="1.35">
<line x1="500.70" y1="513.00" x2="507.50" y2="502.80"/>
<line x1="500.70" y1="507.00" x2="507.50" y2="496.80"/>
<line x1="500.70" y1="501.00" x2="507.50" y2="490.80"/>
<line x1="500.70" y1="495.00" x2="507.50" y2="484.80"/>
<line x1="500.70" y1="489.00" x2="507.50" y2="478.80"/>
</g>
</g>
<path d="M501.70,504.30V493.65M501.10,494.25H507.10M506.50,504.30V493.65" fill="none" stroke="#000" stroke-width="1.2"/>
<line x1="510.10" y1="491.21" x2="510.10" y2="472.37" stroke="#000" stroke-width="1.4" />
<line x1="508.10" y1="472.37" x2="512.10" y2="472.37" stroke="#000" stroke-width="1.4" />
<clipPath id="c51"><rect x="506.50" y="491.21" width="6.80" height="13.09"/></clipPath>
<rect x="506.50" y="491.21" width="6.80" height="13.09" fill="#000"/>
<g clip-path="url(#c51)">
<rect x="507.95" y="498.15" width="1.90" height="1.90" fill="#fff"/>
<rect x="507.95" y="491.95" width="1.90" height="1.90" fill="#fff"/>
<rect x="510.73" y="495.33" width="1.33" height="1.33" fill="#888"/>
</g>
<path d="M506.50,504.30V490.61M505.90,491.21H513.90M513.30,504.30V490.61" fill="none" stroke="#000" stroke-width="1.2"/>
<text x="184.00" y="496.56" font-family='"Liberation Serif", serif' font-size="19" font-weight="normal" text-anchor="middle" stroke="#000" stroke-width="0.3" >*</text>
<text x="226.90" y="496.76" font-family='"Liberation Serif", serif' font-size="19" font-weight="normal" text-anchor="middle" stroke="#000" stroke-width="0.3" >*</text>
<text x="310.20" y="500.26" font-family='"Liberation Serif", serif' font-size="19" font-weight="normal" text-anchor="middle" stroke="#000" stroke-width="0.3" >*</text>
<text x="478.70" y="505.86" font-family='"Liberation Serif", serif' font-size="19" font-weight="normal" text-anchor="middle" stroke="#000" stroke-width="0.3" >*</text>
<text x="370.60" y="316.90" font-family='"Liberation Serif", serif' font-size="13" font-weight="bold" text-anchor="start" stroke="#000" stroke-width="0.3" letter-spacing="0.65" word-spacing="-1">TNF-α (ng/mL)</text>
<clipPath id="c52"><rect x="408.40" y="330.10" width="12.70" height="13.20"/></clipPath>
<rect x="408.40" y="330.10" width="12.70" height="13.20" fill="#fff"/>
<g clip-path="url(#c52)">
</g>
<rect x="408.40" y="330.10" width="12.70" height="13.20" fill="none" stroke="#000" stroke-width="1.8"/>
<text x="427.90" y="341.60" font-family='"Liberation Serif", serif' font-size="13.7" font-weight="bold" text-anchor="start" stroke="#000" stroke-width="0.3" letter-spacing="0.6">0</text>
<clipPath id="c53"><rect x="408.40" y="347.70" width="12.70" height="13.20"/></clipPath>
<rect x="408.40" y="347.70" width="12.70" height="13.20" fill="#fff"/>
<g clip-path="url(#c53)">
<rect x="408.40" y="347.70" width="12.70" height="13.20" fill="#000"/>
<rect x="409.50" y="349.45" width="2.10" height="1.90" fill="#fff"/>
<rect x="409.50" y="352.05" width="2.10" height="1.90" fill="#fff"/>
<rect x="409.50" y="354.65" width="2.10" height="1.90" fill="#fff"/>
<rect x="409.50" y="357.25" width="2.10" height="1.90" fill="#fff"/>
<rect x="412.30" y="349.45" width="2.10" height="1.90" fill="#fff"/>
<rect x="412.30" y="352.05" width="2.10" height="1.90" fill="#fff"/>
<rect x="412.30" y="354.65" width="2.10" height="1.90" fill="#fff"/>
<rect x="412.30" y="357.25" width="2.10" height="1.90" fill="#fff"/>
<rect x="415.10" y="349.45" width="2.10" height="1.90" fill="#fff"/>
<rect x="415.10" y="352.05" width="2.10" height="1.90" fill="#fff"/>
<rect x="415.10" y="354.65" width="2.10" height="1.90" fill="#fff"/>
<rect x="415.10" y="357.25" width="2.10" height="1.90" fill="#fff"/>
<rect x="417.90" y="349.45" width="2.10" height="1.90" fill="#fff"/>
<rect x="417.90" y="352.05" width="2.10" height="1.90" fill="#fff"/>
<rect x="417.90" y="354.65" width="2.10" height="1.90" fill="#fff"/>
<rect x="417.90" y="357.25" width="2.10" height="1.90" fill="#fff"/>
</g>
<rect x="408.40" y="347.70" width="12.70" height="13.20" fill="none" stroke="#000" stroke-width="1.8"/>
<text x="427.90" y="359.46" font-family='"Liberation Serif", serif' font-size="13.7" font-weight="bold" text-anchor="start" stroke="#000" stroke-width="0.3" letter-spacing="0.6">10</text>
<clipPath id="c54"><rect x="408.40" y="365.30" width="12.70" height="13.20"/></clipPath>
<rect x="408.40" y="365.30" width="12.70" height="13.20" fill="#fff"/>
<g clip-path="url(#c54)">
<line x1="393.20" y1="365.30" x2="406.40" y2="378.50" stroke="#000" stroke-width="1.8"/>
<line x1="399.00" y1="365.30" x2="412.20" y2="378.50" stroke="#000" stroke-width="1.8"/>
<line x1="404.80" y1="365.30" x2="418.00" y2="378.50" stroke="#000" stroke-width="1.8"/>
<line x1="410.60" y1="365.30" x2="423.80" y2="378.50" stroke="#000" stroke-width="1.8"/>
<line x1="416.40" y1="365.30" x2="429.60" y2="378.50" stroke="#000" stroke-width="1.8"/>
<line x1="422.20" y1="365.30" x2="435.40" y2="378.50" stroke="#000" stroke-width="1.8"/>
<line x1="428.00" y1="365.30" x2="441.20" y2="378.50" stroke="#000" stroke-width="1.8"/>
<line x1="433.80" y1="365.30" x2="447.00" y2="378.50" stroke="#000" stroke-width="1.8"/>
</g>
<rect x="408.40" y="365.30" width="12.70" height="13.20" fill="none" stroke="#000" stroke-width="1.8"/>
<text x="427.90" y="377.32" font-family='"Liberation Serif", serif' font-size="13.7" font-weight="bold" text-anchor="start" stroke="#000" stroke-width="0.3" letter-spacing="0.6">20</text>
<clipPath id="c55"><rect x="408.40" y="382.90" width="12.70" height="13.20"/></clipPath>
<rect x="408.40" y="382.90" width="12.70" height="13.20" fill="#fff"/>
<g clip-path="url(#c55)">
<rect x="402.35" y="375.90" width="1.60" height="1.60" fill="#000"/>
<rect x="408.15" y="375.90" width="1.60" height="1.60" fill="#000"/>
<rect x="413.95" y="375.90" width="1.60" height="1.60" fill="#000"/>
<rect x="419.75" y="375.90" width="1.60" height="1.60" fill="#000"/>
<rect x="425.55" y="375.90" width="1.60" height="1.60" fill="#000"/>
<rect x="405.25" y="379.10" width="1.60" height="1.60" fill="#000"/>
<rect x="411.05" y="379.10" width="1.60" height="1.60" fill="#000"/>
<rect x="416.85" y="379.10" width="1.60" height="1.60" fill="#000"/>
<rect x="422.65" y="379.10" width="1.60" height="1.60" fill="#000"/>
<rect x="402.35" y="382.30" width="1.60" height="1.60" fill="#000"/>
<rect x="408.15" y="382.30" width="1.60" height="1.60" fill="#000"/>
<rect x="413.95" y="382.30" width="1.60" height="1.60" fill="#000"/>
<rect x="419.75" y="382.30" width="1.60" height="1.60" fill="#000"/>
<rect x="425.55" y="382.30" width="1.60" height="1.60" fill="#000"/>
<rect x="405.25" y="385.50" width="1.60" height="1.60" fill="#000"/>
<rect x="411.05" y="385.50" width="1.60" height="1.60" fill="#000"/>
<rect x="416.85" y="385.50" width="1.60" height="1.60" fill="#000"/>
<rect x="422.65" y="385.50" width="1.60" height="1.60" fill="#000"/>
<rect x="402.35" y="388.70" width="1.60" height="1.60" fill="#000"/>
<rect x="408.15" y="388.70" width="1.60" height="1.60" fill="#000"/>
<rect x="413.95" y="388.70" width="1.60" height="1.60" fill="#000"/>
<rect x="419.75" y="388.70" width="1.60" height="1.60" fill="#000"/>
<rect x="425.55" y="388.70" width="1.60" height="1.60" fill="#000"/>
<rect x="405.25" y="391.90" width="1.60" height="1.60" fill="#000"/>
<rect x="411.05" y="391.90" width="1.60" height="1.60" fill="#000"/>
<rect x="416.85" y="391.90" width="1.60" height="1.60" fill="#000"/>
<rect x="422.65" y="391.90" width="1.60" height="1.60" fill="#000"/>
<rect x="402.35" y="395.10" width="1.60" height="1.60" fill="#000"/>
<rect x="408.15" y="395.10" width="1.60" height="1.60" fill="#000"/>
<rect x="413.95" y="395.10" width="1.60" height="1.60" fill="#000"/>
<rect x="419.75" y="395.10" width="1.60" height="1.60" fill="#000"/>
<rect x="425.55" y="395.10" width="1.60" height="1.60" fill="#000"/>
<rect x="405.25" y="398.30" width="1.60" height="1.60" fill="#000"/>
<rect x="411.05" y="398.30" width="1.60" height="1.60" fill="#000"/>
<rect x="416.85" y="398.30" width="1.60" height="1.60" fill="#000"/>
<rect x="422.65" y="398.30" width="1.60" height="1.60" fill="#000"/>
<rect x="402.35" y="401.50" width="1.60" height="1.60" fill="#000"/>
<rect x="408.15" y="401.50" width="1.60" height="1.60" fill="#000"/>
<rect x="413.95" y="401.50" width="1.60" height="1.60" fill="#000"/>
<rect x="419.75" y="401.50" width="1.60" height="1.60" fill="#000"/>
<rect x="425.55" y="401.50" width="1.60" height="1.60" fill="#000"/>
</g>
<rect x="408.40" y="382.90" width="12.70" height="13.20" fill="none" stroke="#000" stroke-width="1.8"/>
<text x="427.90" y="395.18" font-family='"Liberation Serif", serif' font-size="13.7" font-weight="bold" text-anchor="start" stroke="#000" stroke-width="0.3" letter-spacing="0.6">30</text>
<clipPath id="c56"><rect x="408.40" y="400.50" width="12.70" height="13.20"/></clipPath>
<rect x="408.40" y="400.50" width="12.70" height="13.20" fill="#fff"/>
<g clip-path="url(#c56)">
<line x1="409.40" y1="400.50" x2="396.20" y2="413.70" stroke="#000" stroke-width="1.5"/>
<line x1="414.60" y1="400.50" x2="401.40" y2="413.70" stroke="#000" stroke-width="1.5"/>
<line x1="419.80" y1="400.50" x2="406.60" y2="413.70" stroke="#000" stroke-width="1.5"/>
<line x1="425.00" y1="400.50" x2="411.80" y2="413.70" stroke="#000" stroke-width="1.5"/>
<line x1="430.20" y1="400.50" x2="417.00" y2="413.70" stroke="#000" stroke-width="1.5"/>
<line x1="435.40" y1="400.50" x2="422.20" y2="413.70" stroke="#000" stroke-width="1.5"/>
<line x1="440.60" y1="400.50" x2="427.40" y2="413.70" stroke="#000" stroke-width="1.5"/>
<line x1="445.80" y1="400.50" x2="432.60" y2="413.70" stroke="#000" stroke-width="1.5"/>
</g>
<rect x="408.40" y="400.50" width="12.70" height="13.20" fill="none" stroke="#000" stroke-width="1.8"/>
<text x="427.90" y="413.04" font-family='"Liberation Serif", serif' font-size="13.7" font-weight="bold" text-anchor="start" stroke="#000" stroke-width="0.3" letter-spacing="0.6">40</text>
<clipPath id="c57"><rect x="408.40" y="418.10" width="12.70" height="13.20"/></clipPath>
<rect x="408.40" y="418.10" width="12.70" height="13.20" fill="#000"/>
<g clip-path="url(#c57)">
<rect x="402.42" y="412.38" width="1.45" height="1.45" fill="#fff"/>
<rect x="408.22" y="412.38" width="1.45" height="1.45" fill="#fff"/>
<rect x="414.02" y="412.38" width="1.45" height="1.45" fill="#fff"/>
<rect x="419.82" y="412.38" width="1.45" height="1.45" fill="#fff"/>
<rect x="425.62" y="412.38" width="1.45" height="1.45" fill="#fff"/>
<rect x="405.32" y="415.28" width="1.45" height="1.45" fill="#fff"/>
<rect x="411.12" y="415.28" width="1.45" height="1.45" fill="#fff"/>
<rect x="416.92" y="415.28" width="1.45" height="1.45" fill="#fff"/>
<rect x="422.72" y="415.28" width="1.45" height="1.45" fill="#fff"/>
<rect x="402.42" y="418.18" width="1.45" height="1.45" fill="#fff"/>
<rect x="408.22" y="418.18" width="1.45" height="1.45" fill="#fff"/>
<rect x="414.02" y="418.18" width="1.45" height="1.45" fill="#fff"/>
<rect x="419.82" y="418.18" width="1.45" height="1.45" fill="#fff"/>
<rect x="425.62" y="418.18" width="1.45" height="1.45" fill="#fff"/>
<rect x="405.32" y="421.08" width="1.45" height="1.45" fill="#fff"/>
<rect x="411.12" y="421.08" width="1.45" height="1.45" fill="#fff"/>
<rect x="416.92" y="421.08" width="1.45" height="1.45" fill="#fff"/>
<rect x="422.72" y="421.08" width="1.45" height="1.45" fill="#fff"/>
<rect x="402.42" y="423.98" width="1.45" height="1.45" fill="#fff"/>
<rect x="408.22" y="423.98" width="1.45" height="1.45" fill="#fff"/>
<rect x="414.02" y="423.98" width="1.45" height="1.45" fill="#fff"/>
<rect x="419.82" y="423.98" width="1.45" height="1.45" fill="#fff"/>
<rect x="425.62" y="423.98" width="1.45" height="1.45" fill="#fff"/>
<rect x="405.32" y="426.88" width="1.45" height="1.45" fill="#fff"/>
<rect x="411.12" y="426.88" width="1.45" height="1.45" fill="#fff"/>
<rect x="416.92" y="426.88" width="1.45" height="1.45" fill="#fff"/>
<rect x="422.72" y="426.88" width="1.45" height="1.45" fill="#fff"/>
<rect x="402.42" y="429.78" width="1.45" height="1.45" fill="#fff"/>
<rect x="408.22" y="429.78" width="1.45" height="1.45" fill="#fff"/>
<rect x="414.02" y="429.78" width="1.45" height="1.45" fill="#fff"/>
<rect x="419.82" y="429.78" width="1.45" height="1.45" fill="#fff"/>
<rect x="425.62" y="429.78" width="1.45" height="1.45" fill="#fff"/>
<rect x="405.32" y="432.68" width="1.45" height="1.45" fill="#fff"/>
<rect x="411.12" y="432.68" width="1.45" height="1.45" fill="#fff"/>
<rect x="416.92" y="432.68" width="1.45" height="1.45" fill="#fff"/>
<rect x="422.72" y="432.68" width="1.45" height="1.45" fill="#fff"/>
<rect x="402.42" y="435.58" width="1.45" height="1.45" fill="#fff"/>
<rect x="408.22" y="435.58" width="1.45" height="1.45" fill="#fff"/>
<rect x="414.02" y="435.58" width="1.45" height="1.45" fill="#fff"/>
<rect x="419.82" y="435.58" width="1.45" height="1.45" fill="#fff"/>
<rect x="425.62" y="435.58" width="1.45" height="1.45" fill="#fff"/>
</g>
<rect x="408.40" y="418.10" width="12.70" height="13.20" fill="none" stroke="#000" stroke-width="1.8"/>
<text x="427.90" y="430.90" font-family='"Liberation Serif", serif' font-size="13.7" font-weight="bold" text-anchor="start" stroke="#000" stroke-width="0.3" letter-spacing="0.6">50</text>
</svg>
</body></html>
